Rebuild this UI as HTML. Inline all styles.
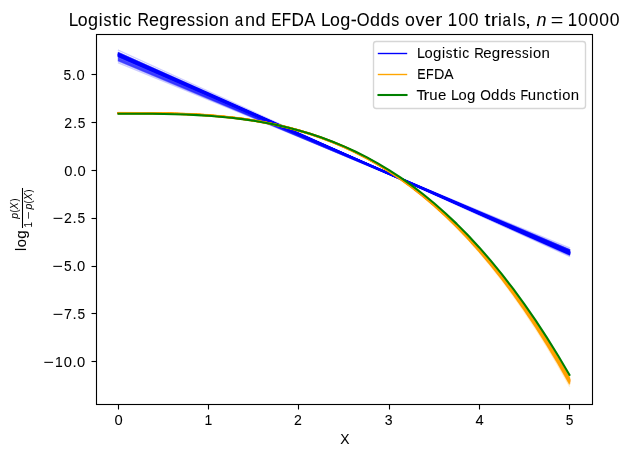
<!DOCTYPE html>
<html><head><meta charset="utf-8"><title>Logistic Regression and EFDA Log-Odds</title>
<style>html,body{margin:0;padding:0;background:#fff;overflow:hidden}svg{display:block;will-change:transform}text{font-family:"Liberation Sans",sans-serif}</style>
</head><body>
<svg width="630" height="457" viewBox="0 0 630 457">
<rect width="630" height="457" fill="#fff"/>
<g fill="none" stroke-linecap="square" stroke-linejoin="round">
<g stroke="#0000ff" stroke-opacity="0.2" stroke-width="1.3889"><path d="M118.54 56.9L569.44 252.14"/><path d="M118.54 58.58L569.44 251.24"/><path d="M118.54 60.59L569.44 250.53"/><path d="M118.54 58.97L569.44 249.33"/><path d="M118.54 59.63L569.44 250.64"/><path d="M118.54 60.76L569.44 249.55"/><path d="M118.54 56.58L569.44 251.71"/><path d="M118.54 58.87L569.44 249.89"/><path d="M118.54 59.98L569.44 249.89"/><path d="M118.54 60.05L569.44 250.22"/><path d="M118.54 61.16L569.44 249.83"/><path d="M118.54 58.42L569.44 250.69"/><path d="M118.54 60.06L569.44 250.59"/><path d="M118.54 60.94L569.44 249.99"/><path d="M118.54 59.23L569.44 251.1"/><path d="M118.54 62.83L569.44 247.87"/><path d="M118.54 55.09L569.44 251.82"/><path d="M118.54 54.18L569.44 252.42"/><path d="M118.54 50.28L569.44 256.32"/><path d="M118.54 55.22L569.44 253.29"/><path d="M118.54 55.98L569.44 252.32"/><path d="M118.54 54.03L569.44 254.52"/><path d="M118.54 56.13L569.44 251.47"/><path d="M118.54 54.6L569.44 254.06"/><path d="M118.54 53.89L569.44 253.62"/><path d="M118.54 52.83L569.44 254.01"/><path d="M118.54 53.3L569.44 254.13"/><path d="M118.54 54.41L569.44 252.69"/><path d="M118.54 52.59L569.44 255.08"/><path d="M118.54 55.37L569.44 251.72"/><path d="M118.54 56.09L569.44 251.48"/><path d="M118.54 53.84L569.44 253.65"/><path d="M118.54 53.89L569.44 254.11"/><path d="M118.54 52.53L569.44 254.38"/><path d="M118.54 54.48L569.44 253.5"/><path d="M118.54 55.47L569.44 252.26"/><path d="M118.54 52.77L569.44 255.3"/><path d="M118.54 56.37L569.44 251.57"/><path d="M118.54 54.88L569.44 252.56"/><path d="M118.54 55.22L569.44 252.72"/><path d="M118.54 55.9L569.44 252.09"/><path d="M118.54 55.12L569.44 253.01"/><path d="M118.54 55.51L569.44 252.38"/><path d="M118.54 58.08L569.44 249.95"/><path d="M118.54 56.39L569.44 250.89"/><path d="M118.54 54.78L569.44 253.85"/><path d="M118.54 55.61L569.44 252.5"/><path d="M118.54 56.84L569.44 252.14"/><path d="M118.54 52.8L569.44 254.26"/><path d="M118.54 53.93L569.44 254.15"/><path d="M118.54 55.6L569.44 252.23"/><path d="M118.54 54.03L569.44 252.75"/><path d="M118.54 54.79L569.44 252.63"/><path d="M118.54 55.34L569.44 251.72"/><path d="M118.54 53.03L569.44 253.93"/><path d="M118.54 53.74L569.44 253.98"/><path d="M118.54 55.29L569.44 251.87"/><path d="M118.54 54.24L569.44 253.59"/><path d="M118.54 53.73L569.44 253.7"/><path d="M118.54 55.61L569.44 252.64"/><path d="M118.54 53.87L569.44 252.71"/><path d="M118.54 53.35L569.44 254.48"/><path d="M118.54 55.76L569.44 252.68"/><path d="M118.54 54.58L569.44 252.78"/><path d="M118.54 54.84L569.44 252.78"/><path d="M118.54 52.72L569.44 254.74"/><path d="M118.54 55.02L569.44 252.96"/><path d="M118.54 54.32L569.44 253.72"/><path d="M118.54 54.51L569.44 253.56"/><path d="M118.54 54.03L569.44 253.27"/><path d="M118.54 55.87L569.44 252.07"/><path d="M118.54 56.85L569.44 250.86"/><path d="M118.54 56.37L569.44 252.47"/><path d="M118.54 55.05L569.44 252.94"/><path d="M118.54 56L569.44 251.53"/><path d="M118.54 54.73L569.44 252.57"/><path d="M118.54 54.02L569.44 252.95"/><path d="M118.54 55.85L569.44 252.08"/><path d="M118.54 57.74L569.44 250.59"/><path d="M118.54 57.4L569.44 250.21"/><path d="M118.54 54.27L569.44 253.44"/><path d="M118.54 55.69L569.44 252.09"/><path d="M118.54 55.4L569.44 252.68"/><path d="M118.54 56.9L569.44 251.1"/><path d="M118.54 56.3L569.44 251.92"/><path d="M118.54 53.65L569.44 254.26"/><path d="M118.54 53.36L569.44 254.54"/><path d="M118.54 56.09L569.44 251.75"/><path d="M118.54 55.55L569.44 252.22"/><path d="M118.54 54.75L569.44 252.3"/><path d="M118.54 54.36L569.44 253.26"/><path d="M118.54 56.14L569.44 252.47"/><path d="M118.54 56.03L569.44 252.63"/><path d="M118.54 56.25L569.44 251.67"/><path d="M118.54 53.7L569.44 253.96"/><path d="M118.54 53.94L569.44 253.56"/><path d="M118.54 54.86L569.44 252.98"/><path d="M118.54 54.55L569.44 253.24"/><path d="M118.54 54.71L569.44 253.4"/><path d="M118.54 55.05L569.44 253.66"/></g>
<g stroke="#ffa500" stroke-opacity="0.2" stroke-width="1.3889"><polyline points="118.54 113.56 129.81 113.57 141.08 113.6 152.35 113.69 163.63 113.85 174.9 114.12 186.17 114.51 197.44 115.06 208.72 115.78 219.99 116.7 231.26 117.84 242.54 119.24 253.81 120.9 265.08 122.87 276.35 125.16 287.63 127.8 298.9 130.81 310.17 134.22 321.44 138.05 332.72 142.33 343.99 147.07 355.26 152.32 366.54 158.09 377.81 164.4 389.08 171.28 400.35 178.76 411.63 186.85 422.9 195.6 434.17 205.01 445.44 215.12 456.72 225.94 467.99 237.52 479.26 249.86 490.54 262.99 501.81 276.95 513.08 291.74 524.35 307.41 535.63 323.97 546.9 341.45 558.17 359.88 569.44 379.27"/><polyline points="118.54 112.85 129.81 112.86 141.08 112.89 152.35 112.98 163.63 113.15 174.9 113.41 186.17 113.81 197.44 114.35 208.72 115.08 219.99 116 231.26 117.15 242.54 118.56 253.81 120.24 265.08 122.22 276.35 124.53 287.63 127.19 298.9 130.23 310.17 133.67 321.44 137.55 332.72 141.87 343.99 146.68 355.26 151.99 366.54 157.83 377.81 164.23 389.08 171.22 400.35 178.81 411.63 187.04 422.9 195.93 434.17 205.5 445.44 215.79 456.72 226.82 467.99 238.61 479.26 251.19 490.54 264.6 501.81 278.85 513.08 293.96 524.35 309.98 535.63 326.92 546.9 344.81 558.17 363.68 569.44 383.56"/><polyline points="118.54 113.18 129.81 113.18 141.08 113.22 152.35 113.3 163.63 113.47 174.9 113.74 186.17 114.13 197.44 114.67 208.72 115.4 219.99 116.32 231.26 117.46 242.54 118.86 253.81 120.54 265.08 122.51 276.35 124.81 287.63 127.45 298.9 130.48 310.17 133.9 321.44 137.75 332.72 142.04 343.99 146.82 355.26 152.09 366.54 157.89 377.81 164.23 389.08 171.16 400.35 178.68 411.63 186.83 422.9 195.63 434.17 205.11 445.44 215.29 456.72 226.2 467.99 237.86 479.26 250.3 490.54 263.55 501.81 277.62 513.08 292.55 524.35 308.36 535.63 325.07 546.9 342.72 558.17 361.33 569.44 380.91"/><polyline points="118.54 113.52 129.81 113.52 141.08 113.56 152.35 113.65 163.63 113.81 174.9 114.08 186.17 114.47 197.44 115.02 208.72 115.74 219.99 116.66 231.26 117.8 242.54 119.2 253.81 120.87 265.08 122.84 276.35 125.13 287.63 127.78 298.9 130.79 310.17 134.21 321.44 138.04 332.72 142.33 343.99 147.09 355.26 152.35 366.54 158.13 377.81 164.46 389.08 171.36 400.35 178.86 411.63 186.98 422.9 195.75 434.17 205.2 445.44 215.34 456.72 226.2 467.99 237.82 479.26 250.21 490.54 263.39 501.81 277.4 513.08 292.26 524.35 308 535.63 324.63 546.9 342.19 558.17 360.7 569.44 380.19"/><polyline points="118.54 113.35 129.81 113.36 141.08 113.39 152.35 113.48 163.63 113.64 174.9 113.91 186.17 114.3 197.44 114.85 208.72 115.57 219.99 116.5 231.26 117.65 242.54 119.05 253.81 120.73 265.08 122.71 276.35 125.02 287.63 127.68 298.9 130.72 310.17 134.16 321.44 138.03 332.72 142.35 343.99 147.16 355.26 152.46 366.54 158.3 377.81 164.7 389.08 171.68 400.35 179.26 411.63 187.48 422.9 196.36 434.17 205.93 445.44 216.2 456.72 227.22 467.99 239 479.26 251.57 490.54 264.96 501.81 279.19 513.08 294.29 524.35 310.28 535.63 327.2 546.9 345.07 558.17 363.91 569.44 383.76"/><polyline points="118.54 113.29 129.81 113.3 141.08 113.33 152.35 113.42 163.63 113.59 174.9 113.85 186.17 114.25 197.44 114.79 208.72 115.51 219.99 116.44 231.26 117.58 242.54 118.98 253.81 120.65 265.08 122.63 276.35 124.93 287.63 127.57 298.9 130.6 310.17 134.02 321.44 137.87 332.72 142.16 343.99 146.94 355.26 152.21 366.54 158.01 377.81 164.35 389.08 171.28 400.35 178.8 411.63 186.96 422.9 195.76 434.17 205.24 445.44 215.42 456.72 226.33 467.99 237.99 479.26 250.43 490.54 263.68 501.81 277.76 513.08 292.69 524.35 308.5 535.63 325.22 546.9 342.87 558.17 361.48 569.44 381.07"/><polyline points="118.54 113.19 129.81 113.19 141.08 113.23 152.35 113.31 163.63 113.48 174.9 113.75 186.17 114.14 197.44 114.69 208.72 115.41 219.99 116.33 231.26 117.48 242.54 118.88 253.81 120.56 265.08 122.54 276.35 124.84 287.63 127.5 298.9 130.53 310.17 133.97 321.44 137.83 332.72 142.15 343.99 146.94 355.26 152.24 366.54 158.06 377.81 164.44 389.08 171.4 400.35 178.97 411.63 187.16 422.9 196.02 434.17 205.55 445.44 215.8 456.72 226.78 467.99 238.52 479.26 251.05 490.54 264.39 501.81 278.57 513.08 293.61 524.35 309.55 535.63 326.4 546.9 344.19 558.17 362.96 569.44 382.72"/><polyline points="118.54 113.04 129.81 113.05 141.08 113.08 152.35 113.17 163.63 113.33 174.9 113.6 186.17 113.99 197.44 114.54 208.72 115.26 219.99 116.18 231.26 117.32 242.54 118.72 253.81 120.39 265.08 122.36 276.35 124.65 287.63 127.29 298.9 130.31 310.17 133.72 321.44 137.55 332.72 141.84 343.99 146.59 355.26 151.85 366.54 157.62 377.81 163.94 389.08 170.84 400.35 178.33 411.63 186.45 422.9 195.21 434.17 204.64 445.44 214.77 456.72 225.62 467.99 237.22 479.26 249.59 490.54 262.76 501.81 276.75 513.08 291.59 524.35 307.3 535.63 323.91 546.9 341.44 558.17 359.92 569.44 379.38"/><polyline points="118.54 113.55 129.81 113.55 141.08 113.59 152.35 113.67 163.63 113.84 174.9 114.11 186.17 114.5 197.44 115.05 208.72 115.77 219.99 116.69 231.26 117.84 242.54 119.24 253.81 120.91 265.08 122.89 276.35 125.19 287.63 127.84 298.9 130.87 310.17 134.3 321.44 138.15 332.72 142.46 343.99 147.24 355.26 152.52 366.54 158.33 377.81 164.7 389.08 171.64 400.35 179.18 411.63 187.36 422.9 196.18 434.17 205.69 445.44 215.9 456.72 226.84 467.99 238.54 479.26 251.03 490.54 264.32 501.81 278.44 513.08 293.43 524.35 309.3 535.63 326.08 546.9 343.8 558.17 362.48 569.44 382.15"/><polyline points="118.54 113.24 129.81 113.25 141.08 113.28 152.35 113.37 163.63 113.53 174.9 113.8 186.17 114.19 197.44 114.74 208.72 115.46 219.99 116.38 231.26 117.53 242.54 118.93 253.81 120.61 265.08 122.58 276.35 124.88 287.63 127.53 298.9 130.56 310.17 133.99 321.44 137.84 332.72 142.14 343.99 146.93 355.26 152.21 366.54 158.02 377.81 164.38 389.08 171.31 400.35 178.85 411.63 187.02 422.9 195.85 434.17 205.35 445.44 215.55 456.72 226.49 467.99 238.18 479.26 250.66 490.54 263.94 501.81 278.06 513.08 293.03 524.35 308.89 535.63 325.66 546.9 343.37 558.17 362.04 569.44 381.69"/><polyline points="118.54 112.72 129.81 112.72 141.08 112.76 152.35 112.84 163.63 113.01 174.9 113.28 186.17 113.67 197.44 114.21 208.72 114.94 219.99 115.86 231.26 117 242.54 118.4 253.81 120.07 265.08 122.04 276.35 124.34 287.63 126.98 298.9 130 310.17 133.42 321.44 137.27 332.72 141.56 343.99 146.32 355.26 151.59 366.54 157.38 377.81 163.71 389.08 170.63 400.35 178.14 411.63 186.27 422.9 195.06 434.17 204.52 445.44 214.68 456.72 225.57 467.99 237.21 479.26 249.62 490.54 262.83 501.81 276.88 513.08 291.77 524.35 307.54 535.63 324.22 546.9 341.82 558.17 360.37 569.44 379.91"/><polyline points="118.54 113.51 129.81 113.51 141.08 113.55 152.35 113.64 163.63 113.8 174.9 114.07 186.17 114.46 197.44 115.01 208.72 115.73 219.99 116.65 231.26 117.8 242.54 119.2 253.81 120.88 265.08 122.85 276.35 125.15 287.63 127.81 298.9 130.84 310.17 134.27 321.44 138.12 332.72 142.43 343.99 147.21 355.26 152.5 366.54 158.32 377.81 164.68 389.08 171.63 400.35 179.18 411.63 187.35 422.9 196.19 434.17 205.7 445.44 215.92 456.72 226.87 467.99 238.58 479.26 251.07 490.54 264.38 501.81 278.51 513.08 293.51 524.35 309.39 535.63 326.19 546.9 343.93 558.17 362.63 569.44 382.32"/><polyline points="118.54 113.23 129.81 113.24 141.08 113.27 152.35 113.36 163.63 113.53 174.9 113.79 186.17 114.19 197.44 114.73 208.72 115.45 219.99 116.37 231.26 117.51 242.54 118.9 253.81 120.56 265.08 122.52 276.35 124.81 287.63 127.43 298.9 130.43 310.17 133.83 321.44 137.64 332.72 141.9 343.99 146.63 355.26 151.85 366.54 157.58 377.81 163.86 389.08 170.7 400.35 178.14 411.63 186.19 422.9 194.87 434.17 204.22 445.44 214.26 456.72 225.01 467.99 236.5 479.26 248.75 490.54 261.78 501.81 275.62 513.08 290.3 524.35 305.83 535.63 322.25 546.9 339.57 558.17 357.82 569.44 377.03"/><polyline points="118.54 113.27 129.81 113.27 141.08 113.31 152.35 113.4 163.63 113.56 174.9 113.83 186.17 114.22 197.44 114.77 208.72 115.49 219.99 116.41 231.26 117.56 242.54 118.95 253.81 120.62 265.08 122.6 276.35 124.89 287.63 127.54 298.9 130.56 310.17 133.98 321.44 137.82 332.72 142.12 343.99 146.88 355.26 152.15 366.54 157.94 377.81 164.28 389.08 171.2 400.35 178.71 411.63 186.85 422.9 195.64 434.17 205.1 445.44 215.27 456.72 226.16 467.99 237.81 479.26 250.23 490.54 263.45 501.81 277.5 513.08 292.4 524.35 308.18 535.63 324.86 546.9 342.48 558.17 361.05 569.44 380.59"/><polyline points="118.54 113.07 129.81 113.08 141.08 113.11 152.35 113.2 163.63 113.36 174.9 113.63 186.17 114.02 197.44 114.57 208.72 115.29 219.99 116.21 231.26 117.36 242.54 118.76 253.81 120.43 265.08 122.4 276.35 124.7 287.63 127.35 298.9 130.37 310.17 133.79 321.44 137.63 332.72 141.93 343.99 146.7 355.26 151.97 366.54 157.77 377.81 164.11 389.08 171.03 400.35 178.55 411.63 186.7 422.9 195.5 434.17 204.97 445.44 215.15 456.72 226.05 467.99 237.71 479.26 250.14 490.54 263.37 501.81 277.44 513.08 292.36 524.35 308.16 535.63 324.86 546.9 342.5 558.17 361.09 569.44 380.67"/><polyline points="118.54 112.56 129.81 112.57 141.08 112.6 152.35 112.69 163.63 112.86 174.9 113.12 186.17 113.52 197.44 114.06 208.72 114.78 219.99 115.71 231.26 116.85 242.54 118.25 253.81 119.93 265.08 121.9 276.35 124.2 287.63 126.85 298.9 129.88 310.17 133.31 321.44 137.16 332.72 141.46 343.99 146.24 355.26 151.52 366.54 157.33 377.81 163.69 389.08 170.63 400.35 178.17 411.63 186.34 422.9 195.16 434.17 204.66 445.44 214.86 456.72 225.8 467.99 237.49 479.26 249.96 490.54 263.24 501.81 277.35 513.08 292.32 524.35 308.18 535.63 324.94 546.9 342.64 558.17 361.31 569.44 380.96"/><polyline points="118.54 113 129.81 113.01 141.08 113.04 152.35 113.13 163.63 113.3 174.9 113.56 186.17 113.96 197.44 114.5 208.72 115.22 219.99 116.14 231.26 117.29 242.54 118.69 253.81 120.36 265.08 122.33 276.35 124.63 287.63 127.27 298.9 130.29 310.17 133.71 321.44 137.56 332.72 141.85 343.99 146.61 355.26 151.88 366.54 157.67 377.81 164.01 389.08 170.92 400.35 178.44 411.63 186.58 422.9 195.36 434.17 204.83 445.44 214.99 456.72 225.88 467.99 237.52 479.26 249.94 490.54 263.16 501.81 277.2 513.08 292.1 524.35 307.88 535.63 324.56 546.9 342.17 558.17 360.73 569.44 380.28"/><polyline points="118.54 113.04 129.81 113.05 141.08 113.08 152.35 113.17 163.63 113.33 174.9 113.6 186.17 113.99 197.44 114.54 208.72 115.26 219.99 116.18 231.26 117.33 242.54 118.74 253.81 120.41 265.08 122.39 276.35 124.7 287.63 127.35 298.9 130.38 310.17 133.82 321.44 137.68 332.72 141.99 343.99 146.79 355.26 152.08 366.54 157.9 377.81 164.28 389.08 171.24 400.35 178.8 411.63 187 422.9 195.85 434.17 205.38 445.44 215.63 456.72 226.6 467.99 238.34 479.26 250.86 490.54 264.2 501.81 278.37 513.08 293.41 524.35 309.34 535.63 326.19 546.9 343.97 558.17 362.73 569.44 382.49"/><polyline points="118.54 112.71 129.81 112.72 141.08 112.75 152.35 112.84 163.63 113 174.9 113.27 186.17 113.66 197.44 114.21 208.72 114.93 219.99 115.85 231.26 117 242.54 118.4 253.81 120.07 265.08 122.04 276.35 124.34 287.63 126.99 298.9 130.01 310.17 133.43 321.44 137.28 332.72 141.58 343.99 146.35 355.26 151.62 366.54 157.42 377.81 163.77 389.08 170.69 400.35 178.21 411.63 186.36 422.9 195.17 434.17 204.64 445.44 214.82 456.72 225.73 467.99 237.39 479.26 249.83 490.54 263.08 501.81 277.15 513.08 292.08 524.35 307.89 535.63 324.6 546.9 342.25 558.17 360.85 569.44 380.44"/><polyline points="118.54 113.21 129.81 113.21 141.08 113.25 152.35 113.34 163.63 113.5 174.9 113.77 186.17 114.16 197.44 114.71 208.72 115.43 219.99 116.35 231.26 117.5 242.54 118.9 253.81 120.58 265.08 122.55 276.35 124.86 287.63 127.51 298.9 130.54 310.17 133.97 321.44 137.83 332.72 142.14 343.99 146.93 355.26 152.22 366.54 158.04 377.81 164.41 389.08 171.36 400.35 178.91 411.63 187.1 422.9 195.94 434.17 205.46 445.44 215.69 456.72 226.65 467.99 238.37 479.26 250.87 490.54 264.19 501.81 278.34 513.08 293.35 524.35 309.25 535.63 326.07 546.9 343.82 558.17 362.55 569.44 382.26"/><polyline points="118.54 113.43 129.81 113.43 141.08 113.47 152.35 113.55 163.63 113.72 174.9 113.99 186.17 114.38 197.44 114.92 208.72 115.64 219.99 116.57 231.26 117.71 242.54 119.11 253.81 120.78 265.08 122.75 276.35 125.04 287.63 127.68 298.9 130.7 310.17 134.11 321.44 137.95 332.72 142.24 343.99 147 355.26 152.25 366.54 158.03 377.81 164.36 389.08 171.26 400.35 178.76 411.63 186.88 422.9 195.65 434.17 205.09 445.44 215.23 456.72 226.1 467.99 237.71 479.26 250.09 490.54 263.28 501.81 277.28 513.08 292.14 524.35 307.87 535.63 324.5 546.9 342.06 558.17 360.56 569.44 380.04"/><polyline points="118.54 112.93 129.81 112.94 141.08 112.97 152.35 113.06 163.63 113.23 174.9 113.49 186.17 113.89 197.44 114.43 208.72 115.15 219.99 116.07 231.26 117.22 242.54 118.61 253.81 120.28 265.08 122.25 276.35 124.54 287.63 127.18 298.9 130.2 310.17 133.61 321.44 137.45 332.72 141.73 343.99 146.48 355.26 151.74 366.54 157.51 377.81 163.84 389.08 170.73 400.35 178.22 411.63 186.33 422.9 195.09 434.17 204.53 445.44 214.66 456.72 225.51 467.99 237.1 479.26 249.47 490.54 262.64 501.81 276.63 513.08 291.47 524.35 307.18 535.63 323.78 546.9 341.31 558.17 359.79 569.44 379.24"/><polyline points="118.54 112.87 129.81 112.88 141.08 112.91 152.35 113 163.63 113.16 174.9 113.43 186.17 113.82 197.44 114.37 208.72 115.09 219.99 116.01 231.26 117.15 242.54 118.55 253.81 120.22 265.08 122.19 276.35 124.48 287.63 127.12 298.9 130.14 310.17 133.55 321.44 137.39 332.72 141.67 343.99 146.42 355.26 151.68 366.54 157.45 377.81 163.78 389.08 170.67 400.35 178.17 411.63 186.28 422.9 195.04 434.17 204.48 445.44 214.61 456.72 225.46 467.99 237.06 479.26 249.44 490.54 262.61 501.81 276.6 513.08 291.44 524.35 307.15 535.63 323.77 546.9 341.3 558.17 359.78 569.44 379.24"/><polyline points="118.54 113.21 129.81 113.22 141.08 113.25 152.35 113.34 163.63 113.5 174.9 113.77 186.17 114.16 197.44 114.71 208.72 115.43 219.99 116.35 231.26 117.49 242.54 118.89 253.81 120.56 265.08 122.52 276.35 124.82 287.63 127.46 298.9 130.47 310.17 133.88 321.44 137.72 332.72 142 343.99 146.75 355.26 152 366.54 157.78 377.81 164.1 389.08 170.99 400.35 178.48 411.63 186.58 422.9 195.34 434.17 204.77 445.44 214.89 456.72 225.74 467.99 237.33 479.26 249.69 490.54 262.85 501.81 276.84 513.08 291.66 524.35 307.36 535.63 323.96 546.9 341.48 558.17 359.94 569.44 379.38"/><polyline points="118.54 113.05 129.81 113.05 141.08 113.09 152.35 113.17 163.63 113.34 174.9 113.61 186.17 114 197.44 114.55 208.72 115.27 219.99 116.19 231.26 117.34 242.54 118.73 253.81 120.41 265.08 122.38 276.35 124.68 287.63 127.32 298.9 130.35 310.17 133.77 321.44 137.62 332.72 141.91 343.99 146.68 355.26 151.96 366.54 157.75 377.81 164.1 389.08 171.02 400.35 178.55 411.63 186.69 422.9 195.5 434.17 204.97 445.44 215.15 456.72 226.06 467.99 237.72 479.26 250.16 490.54 263.4 501.81 277.47 513.08 292.39 524.35 308.2 535.63 324.91 546.9 342.56 558.17 361.16 569.44 380.74"/><polyline points="118.54 113.01 129.81 113.02 141.08 113.05 152.35 113.14 163.63 113.3 174.9 113.57 186.17 113.96 197.44 114.51 208.72 115.22 219.99 116.14 231.26 117.29 242.54 118.68 253.81 120.35 265.08 122.32 276.35 124.61 287.63 127.24 298.9 130.25 310.17 133.66 321.44 137.49 332.72 141.76 343.99 146.51 355.26 151.75 366.54 157.51 377.81 163.82 389.08 170.69 400.35 178.16 411.63 186.25 422.9 194.99 434.17 204.39 445.44 214.49 456.72 225.31 467.99 236.87 479.26 249.19 490.54 262.32 501.81 276.25 513.08 291.03 524.35 306.68 535.63 323.22 546.9 340.68 558.17 359.08 569.44 378.45"/><polyline points="118.54 113.15 129.81 113.16 141.08 113.19 152.35 113.28 163.63 113.44 174.9 113.71 186.17 114.1 197.44 114.65 208.72 115.37 219.99 116.29 231.26 117.44 242.54 118.84 253.81 120.51 265.08 122.49 276.35 124.79 287.63 127.44 298.9 130.46 310.17 133.89 321.44 137.74 332.72 142.04 343.99 146.81 355.26 152.09 366.54 157.89 377.81 164.25 389.08 171.18 400.35 178.71 411.63 186.87 422.9 195.68 434.17 205.18 445.44 215.37 456.72 226.29 467.99 237.97 479.26 250.43 490.54 263.69 501.81 277.79 513.08 292.74 524.35 308.58 535.63 325.32 546.9 343 558.17 361.64 569.44 381.26"/><polyline points="118.54 113.01 129.81 113.02 141.08 113.05 152.35 113.14 163.63 113.3 174.9 113.57 186.17 113.96 197.44 114.51 208.72 115.23 219.99 116.14 231.26 117.29 242.54 118.68 253.81 120.34 265.08 122.31 276.35 124.59 287.63 127.22 298.9 130.23 310.17 133.63 321.44 137.45 332.72 141.71 343.99 146.44 355.26 151.67 366.54 157.42 377.81 163.71 389.08 170.56 400.35 178.01 411.63 186.08 422.9 194.78 434.17 204.16 445.44 214.22 456.72 224.99 467.99 236.51 479.26 248.79 490.54 261.85 501.81 275.73 513.08 290.45 524.35 306.03 535.63 322.49 546.9 339.87 558.17 358.18 569.44 377.45"/><polyline points="118.54 113.28 129.81 113.28 141.08 113.32 152.35 113.41 163.63 113.57 174.9 113.84 186.17 114.23 197.44 114.78 208.72 115.5 219.99 116.42 231.26 117.57 242.54 118.96 253.81 120.64 265.08 122.61 276.35 124.91 287.63 127.56 298.9 130.58 310.17 134 321.44 137.85 332.72 142.14 343.99 146.91 355.26 152.19 366.54 157.98 377.81 164.33 389.08 171.25 400.35 178.77 411.63 186.92 422.9 195.72 434.17 205.2 445.44 215.38 456.72 226.29 467.99 237.94 479.26 250.38 490.54 263.62 501.81 277.69 513.08 292.62 524.35 308.42 535.63 325.13 546.9 342.78 558.17 361.38 569.44 380.96"/><polyline points="118.54 113.26 129.81 113.26 141.08 113.3 152.35 113.38 163.63 113.55 174.9 113.82 186.17 114.21 197.44 114.75 208.72 115.47 219.99 116.39 231.26 117.54 242.54 118.93 253.81 120.6 265.08 122.56 276.35 124.85 287.63 127.49 298.9 130.5 310.17 133.91 321.44 137.74 332.72 142.01 343.99 146.76 355.26 152 366.54 157.77 377.81 164.07 389.08 170.95 400.35 178.43 411.63 186.52 422.9 195.26 434.17 204.67 445.44 214.77 456.72 225.59 467.99 237.15 479.26 249.48 490.54 262.61 501.81 276.55 513.08 291.34 524.35 307 535.63 323.55 546.9 341.01 558.17 359.42 569.44 378.8"/><polyline points="118.54 113.74 129.81 113.75 141.08 113.79 152.35 113.87 163.63 114.04 174.9 114.3 186.17 114.7 197.44 115.24 208.72 115.96 219.99 116.88 231.26 118.03 242.54 119.43 253.81 121.1 265.08 123.07 276.35 125.36 287.63 128.01 298.9 131.03 310.17 134.44 321.44 138.28 332.72 142.57 343.99 147.33 355.26 152.6 366.54 158.38 377.81 164.71 389.08 171.62 400.35 179.13 411.63 187.26 422.9 196.04 434.17 205.49 445.44 215.64 456.72 226.52 467.99 238.14 479.26 250.54 490.54 263.74 501.81 277.77 513.08 292.65 524.35 308.4 535.63 325.06 546.9 342.64 558.17 361.17 569.44 380.68"/><polyline points="118.54 112.88 129.81 112.88 141.08 112.92 152.35 113 163.63 113.17 174.9 113.44 186.17 113.83 197.44 114.37 208.72 115.1 219.99 116.02 231.26 117.17 242.54 118.57 253.81 120.24 265.08 122.22 276.35 124.52 287.63 127.18 298.9 130.2 310.17 133.64 321.44 137.49 332.72 141.8 343.99 146.58 355.26 151.87 366.54 157.69 377.81 164.05 389.08 171 400.35 178.55 411.63 186.73 422.9 195.56 434.17 205.08 445.44 215.3 456.72 226.25 467.99 237.96 479.26 250.46 490.54 263.76 501.81 277.9 513.08 292.9 524.35 308.79 535.63 325.59 546.9 343.33 558.17 362.03 569.44 381.73"/><polyline points="118.54 112.79 129.81 112.8 141.08 112.83 152.35 112.92 163.63 113.08 174.9 113.35 186.17 113.74 197.44 114.29 208.72 115.01 219.99 115.93 231.26 117.07 242.54 118.47 253.81 120.14 265.08 122.11 276.35 124.4 287.63 127.05 298.9 130.06 310.17 133.48 321.44 137.32 332.72 141.6 343.99 146.36 355.26 151.62 366.54 157.4 377.81 163.73 389.08 170.63 400.35 178.13 411.63 186.25 422.9 195.02 434.17 204.47 445.44 214.61 456.72 225.47 467.99 237.09 479.26 249.48 490.54 262.66 501.81 276.67 513.08 291.53 524.35 307.27 535.63 323.9 546.9 341.46 558.17 359.97 569.44 379.45"/><polyline points="118.54 113.38 129.81 113.38 141.08 113.42 152.35 113.5 163.63 113.67 174.9 113.93 186.17 114.33 197.44 114.87 208.72 115.59 219.99 116.51 231.26 117.66 242.54 119.06 253.81 120.73 265.08 122.7 276.35 125 287.63 127.64 298.9 130.66 310.17 134.08 321.44 137.92 332.72 142.22 343.99 146.98 355.26 152.25 366.54 158.04 377.81 164.37 389.08 171.29 400.35 178.8 411.63 186.93 422.9 195.72 434.17 205.18 445.44 215.34 456.72 226.23 467.99 237.87 479.26 250.28 490.54 263.5 501.81 277.54 513.08 292.43 524.35 308.2 535.63 324.88 546.9 342.48 558.17 361.04 569.44 380.58"/><polyline points="118.54 113.66 129.81 113.66 141.08 113.7 152.35 113.79 163.63 113.95 174.9 114.22 186.17 114.61 197.44 115.16 208.72 115.88 219.99 116.8 231.26 117.95 242.54 119.35 253.81 121.02 265.08 123 276.35 125.3 287.63 127.95 298.9 130.98 310.17 134.4 321.44 138.26 332.72 142.56 343.99 147.34 355.26 152.62 366.54 158.43 377.81 164.79 389.08 171.73 400.35 179.27 411.63 187.44 422.9 196.26 434.17 205.76 445.44 215.97 456.72 226.91 467.99 238.6 479.26 251.08 490.54 264.36 501.81 278.47 513.08 293.45 524.35 309.31 535.63 326.08 546.9 343.78 558.17 362.45 569.44 382.11"/><polyline points="118.54 112.69 129.81 112.7 141.08 112.73 152.35 112.82 163.63 112.99 174.9 113.25 186.17 113.65 197.44 114.19 208.72 114.91 219.99 115.84 231.26 116.99 242.54 118.39 253.81 120.06 265.08 122.04 276.35 124.34 287.63 127 298.9 130.03 310.17 133.46 321.44 137.31 332.72 141.62 343.99 146.41 355.26 151.7 366.54 157.52 377.81 163.89 389.08 170.84 400.35 178.39 411.63 186.57 422.9 195.41 434.17 204.93 445.44 215.15 456.72 226.11 467.99 237.83 479.26 250.33 490.54 263.64 501.81 277.79 513.08 292.8 524.35 308.69 535.63 325.5 546.9 343.25 558.17 361.97 569.44 381.68"/><polyline points="118.54 112.69 129.81 112.69 141.08 112.73 152.35 112.82 163.63 112.98 174.9 113.25 186.17 113.64 197.44 114.19 208.72 114.91 219.99 115.83 231.26 116.98 242.54 118.37 253.81 120.05 265.08 122.02 276.35 124.32 287.63 126.96 298.9 129.99 310.17 133.41 321.44 137.26 332.72 141.55 343.99 146.32 355.26 151.59 366.54 157.39 377.81 163.74 389.08 170.66 400.35 178.18 411.63 186.33 422.9 195.13 434.17 204.61 445.44 214.78 456.72 225.69 467.99 237.35 479.26 249.78 490.54 263.02 501.81 277.09 513.08 292.02 524.35 307.82 535.63 324.53 546.9 342.17 558.17 360.77 569.44 380.35"/><polyline points="118.54 112.93 129.81 112.94 141.08 112.97 152.35 113.06 163.63 113.22 174.9 113.49 186.17 113.89 197.44 114.43 208.72 115.15 219.99 116.07 231.26 117.22 242.54 118.62 253.81 120.29 265.08 122.26 276.35 124.56 287.63 127.2 298.9 130.23 310.17 133.65 321.44 137.49 332.72 141.79 343.99 146.55 355.26 151.82 366.54 157.62 377.81 163.96 389.08 170.88 400.35 178.39 411.63 186.54 422.9 195.33 434.17 204.8 445.44 214.97 456.72 225.87 467.99 237.52 479.26 249.94 490.54 263.17 501.81 277.23 513.08 292.14 524.35 307.93 535.63 324.63 546.9 342.25 558.17 360.83 569.44 380.39"/><polyline points="118.54 113.86 129.81 113.87 141.08 113.9 152.35 113.99 163.63 114.15 174.9 114.42 186.17 114.81 197.44 115.36 208.72 116.08 219.99 117 231.26 118.15 242.54 119.55 253.81 121.23 265.08 123.2 276.35 125.5 287.63 128.15 298.9 131.18 310.17 134.61 321.44 138.46 332.72 142.77 343.99 147.55 355.26 152.83 366.54 158.64 377.81 165 389.08 171.94 400.35 179.48 411.63 187.65 422.9 196.47 434.17 205.97 445.44 216.18 456.72 227.12 467.99 238.81 479.26 251.28 490.54 264.57 501.81 278.68 513.08 293.66 524.35 309.52 535.63 326.29 546.9 344 558.17 362.67 569.44 382.32"/><polyline points="118.54 113.16 129.81 113.17 141.08 113.2 152.35 113.29 163.63 113.46 174.9 113.72 186.17 114.12 197.44 114.66 208.72 115.38 219.99 116.31 231.26 117.46 242.54 118.86 253.81 120.54 265.08 122.51 276.35 124.82 287.63 127.47 298.9 130.51 310.17 133.94 321.44 137.8 332.72 142.12 343.99 146.91 355.26 152.2 366.54 158.02 377.81 164.4 389.08 171.36 400.35 178.92 411.63 187.12 422.9 195.97 434.17 205.5 445.44 215.74 456.72 226.71 467.99 238.45 479.26 250.97 490.54 264.3 501.81 278.48 513.08 293.51 524.35 309.44 535.63 326.28 546.9 344.06 558.17 362.82 569.44 382.57"/><polyline points="118.54 113.6 129.81 113.61 141.08 113.64 152.35 113.73 163.63 113.9 174.9 114.16 186.17 114.56 197.44 115.1 208.72 115.82 219.99 116.74 231.26 117.89 242.54 119.29 253.81 120.96 265.08 122.93 276.35 125.22 287.63 127.87 298.9 130.88 310.17 134.3 321.44 138.14 332.72 142.43 343.99 147.19 355.26 152.46 366.54 158.24 377.81 164.57 389.08 171.48 400.35 178.99 411.63 187.12 422.9 195.89 434.17 205.35 445.44 215.5 456.72 226.38 467.99 238 479.26 250.4 490.54 263.6 501.81 277.63 513.08 292.51 524.35 308.26 535.63 324.91 546.9 342.5 558.17 361.03 569.44 380.54"/><polyline points="118.54 113.4 129.81 113.41 141.08 113.44 152.35 113.53 163.63 113.7 174.9 113.96 186.17 114.36 197.44 114.9 208.72 115.63 219.99 116.55 231.26 117.7 242.54 119.1 253.81 120.78 265.08 122.76 276.35 125.07 287.63 127.73 298.9 130.77 310.17 134.21 321.44 138.08 332.72 142.4 343.99 147.2 355.26 152.51 366.54 158.35 377.81 164.74 389.08 171.72 400.35 179.3 411.63 187.51 422.9 196.39 434.17 205.95 445.44 216.23 456.72 227.24 467.99 239.01 479.26 251.58 490.54 264.96 501.81 279.18 513.08 294.27 524.35 310.26 535.63 327.17 546.9 345.03 558.17 363.86 569.44 383.69"/><polyline points="118.54 113.41 129.81 113.42 141.08 113.45 152.35 113.54 163.63 113.71 174.9 113.97 186.17 114.37 197.44 114.91 208.72 115.63 219.99 116.55 231.26 117.7 242.54 119.09 253.81 120.76 265.08 122.73 276.35 125.02 287.63 127.66 298.9 130.67 310.17 134.08 321.44 137.92 332.72 142.2 343.99 146.95 355.26 152.2 366.54 157.98 377.81 164.3 389.08 171.19 400.35 178.67 411.63 186.78 422.9 195.54 434.17 204.96 445.44 215.09 456.72 225.93 467.99 237.52 479.26 249.88 490.54 263.04 501.81 277.02 513.08 291.84 524.35 307.54 535.63 324.14 546.9 341.65 558.17 360.11 569.44 379.55"/><polyline points="118.54 113.35 129.81 113.36 141.08 113.39 152.35 113.48 163.63 113.65 174.9 113.91 186.17 114.31 197.44 114.85 208.72 115.57 219.99 116.49 231.26 117.64 242.54 119.03 253.81 120.7 265.08 122.67 276.35 124.96 287.63 127.6 298.9 130.61 310.17 134.02 321.44 137.85 332.72 142.13 343.99 146.89 355.26 152.13 366.54 157.9 377.81 164.22 389.08 171.11 400.35 178.59 411.63 186.7 422.9 195.45 434.17 204.87 445.44 214.99 456.72 225.83 467.99 237.42 479.26 249.77 490.54 262.92 501.81 276.9 513.08 291.71 524.35 307.4 535.63 323.99 546.9 341.49 558.17 359.94 569.44 379.37"/><polyline points="118.54 112.78 129.81 112.79 141.08 112.82 152.35 112.91 163.63 113.07 174.9 113.34 186.17 113.73 197.44 114.28 208.72 115 219.99 115.92 231.26 117.07 242.54 118.46 253.81 120.14 265.08 122.11 276.35 124.41 287.63 127.05 298.9 130.07 310.17 133.49 321.44 137.34 332.72 141.63 343.99 146.4 355.26 151.67 366.54 157.46 377.81 163.81 389.08 170.73 400.35 178.24 411.63 186.39 422.9 195.18 434.17 204.65 445.44 214.82 456.72 225.72 467.99 237.37 479.26 249.8 490.54 263.03 501.81 277.09 513.08 292 524.35 307.79 535.63 324.49 546.9 342.11 558.17 360.7 569.44 380.26"/><polyline points="118.54 113.54 129.81 113.55 141.08 113.58 152.35 113.67 163.63 113.83 174.9 114.1 186.17 114.5 197.44 115.04 208.72 115.76 219.99 116.69 231.26 117.84 242.54 119.24 253.81 120.92 265.08 122.9 276.35 125.2 287.63 127.86 298.9 130.89 310.17 134.33 321.44 138.19 332.72 142.51 343.99 147.3 355.26 152.6 366.54 158.43 377.81 164.81 389.08 171.77 400.35 179.34 411.63 187.54 422.9 196.4 434.17 205.94 445.44 216.19 456.72 227.17 467.99 238.92 479.26 251.45 490.54 264.8 501.81 278.98 513.08 294.03 524.35 309.98 535.63 326.84 546.9 344.64 558.17 363.42 569.44 383.19"/><polyline points="118.54 113.23 129.81 113.23 141.08 113.27 152.35 113.35 163.63 113.52 174.9 113.78 186.17 114.18 197.44 114.72 208.72 115.44 219.99 116.36 231.26 117.51 242.54 118.9 253.81 120.57 265.08 122.54 276.35 124.83 287.63 127.47 298.9 130.48 310.17 133.89 321.44 137.73 332.72 142.01 343.99 146.76 355.26 152.01 366.54 157.78 377.81 164.1 389.08 170.99 400.35 178.48 411.63 186.59 422.9 195.34 434.17 204.77 445.44 214.89 456.72 225.73 467.99 237.32 479.26 249.68 490.54 262.84 501.81 276.81 513.08 291.64 524.35 307.33 535.63 323.92 546.9 341.43 558.17 359.89 569.44 379.32"/><polyline points="118.54 113.14 129.81 113.15 141.08 113.18 152.35 113.27 163.63 113.43 174.9 113.7 186.17 114.09 197.44 114.64 208.72 115.36 219.99 116.28 231.26 117.42 242.54 118.82 253.81 120.49 265.08 122.46 276.35 124.75 287.63 127.4 298.9 130.41 310.17 133.83 321.44 137.67 332.72 141.95 343.99 146.71 355.26 151.97 366.54 157.75 377.81 164.08 389.08 170.98 400.35 178.48 411.63 186.6 422.9 195.37 434.17 204.81 445.44 214.95 456.72 225.82 467.99 237.43 479.26 249.82 490.54 263 501.81 277.01 513.08 291.87 524.35 307.6 535.63 324.23 546.9 341.79 558.17 360.3 569.44 379.78"/><polyline points="118.54 113.34 129.81 113.35 141.08 113.39 152.35 113.47 163.63 113.64 174.9 113.9 186.17 114.3 197.44 114.84 208.72 115.56 219.99 116.48 231.26 117.63 242.54 119.03 253.81 120.7 265.08 122.67 276.35 124.96 287.63 127.61 298.9 130.63 310.17 134.05 321.44 137.89 332.72 142.18 343.99 146.94 355.26 152.2 366.54 157.99 377.81 164.33 389.08 171.24 400.35 178.74 411.63 186.88 422.9 195.66 434.17 205.11 445.44 215.27 456.72 226.15 467.99 237.78 479.26 250.19 490.54 263.39 501.81 277.43 513.08 292.31 524.35 308.07 535.63 324.73 546.9 342.32 558.17 360.87 569.44 380.39"/><polyline points="118.54 113.35 129.81 113.36 141.08 113.39 152.35 113.48 163.63 113.65 174.9 113.91 186.17 114.31 197.44 114.85 208.72 115.57 219.99 116.49 231.26 117.64 242.54 119.04 253.81 120.71 265.08 122.69 276.35 124.99 287.63 127.64 298.9 130.66 310.17 134.09 321.44 137.94 332.72 142.24 343.99 147.01 355.26 152.29 366.54 158.09 377.81 164.45 389.08 171.38 400.35 178.91 411.63 187.07 422.9 195.88 434.17 205.37 445.44 215.56 456.72 226.48 467.99 238.16 479.26 250.61 490.54 263.87 501.81 277.97 513.08 292.91 524.35 308.75 535.63 325.49 546.9 343.16 558.17 361.8 569.44 381.42"/><polyline points="118.54 113.59 129.81 113.59 141.08 113.63 152.35 113.72 163.63 113.88 174.9 114.15 186.17 114.54 197.44 115.09 208.72 115.81 219.99 116.74 231.26 117.89 242.54 119.29 253.81 120.97 265.08 122.95 276.35 125.25 287.63 127.91 298.9 130.95 310.17 134.39 321.44 138.26 332.72 142.58 343.99 147.38 355.26 152.68 366.54 158.51 377.81 164.9 389.08 171.87 400.35 179.45 411.63 187.66 422.9 196.53 434.17 206.09 445.44 216.35 456.72 227.36 467.99 239.12 479.26 251.68 490.54 265.05 501.81 279.26 513.08 294.34 524.35 310.31 535.63 327.21 546.9 345.05 558.17 363.86 569.44 383.68"/><polyline points="118.54 113.36 129.81 113.36 141.08 113.4 152.35 113.48 163.63 113.65 174.9 113.92 186.17 114.31 197.44 114.86 208.72 115.58 219.99 116.5 231.26 117.65 242.54 119.05 253.81 120.73 265.08 122.71 276.35 125.01 287.63 127.67 298.9 130.7 310.17 134.13 321.44 137.99 332.72 142.3 343.99 147.1 355.26 152.39 366.54 158.21 377.81 164.59 389.08 171.54 400.35 179.1 411.63 187.3 422.9 196.14 434.17 205.67 445.44 215.91 456.72 226.89 467.99 238.62 479.26 251.14 490.54 264.46 501.81 278.63 513.08 293.66 524.35 309.58 535.63 326.42 546.9 344.2 558.17 362.95 569.44 382.69"/><polyline points="118.54 113.49 129.81 113.5 141.08 113.53 152.35 113.62 163.63 113.79 174.9 114.05 186.17 114.45 197.44 114.99 208.72 115.71 219.99 116.63 231.26 117.78 242.54 119.17 253.81 120.84 265.08 122.81 276.35 125.1 287.63 127.75 298.9 130.76 310.17 134.17 321.44 138.01 332.72 142.29 343.99 147.05 355.26 152.31 366.54 158.08 377.81 164.41 389.08 171.31 400.35 178.8 411.63 186.92 422.9 195.68 434.17 205.12 445.44 215.25 456.72 226.11 467.99 237.71 479.26 250.09 490.54 263.26 501.81 277.26 513.08 292.1 524.35 307.82 535.63 324.44 546.9 341.98 558.17 360.47 569.44 379.93"/><polyline points="118.54 113.25 129.81 113.25 141.08 113.29 152.35 113.38 163.63 113.54 174.9 113.81 186.17 114.2 197.44 114.74 208.72 115.46 219.99 116.38 231.26 117.52 242.54 118.91 253.81 120.57 265.08 122.53 276.35 124.8 287.63 127.43 298.9 130.42 310.17 133.81 321.44 137.62 332.72 141.86 343.99 146.58 355.26 151.78 366.54 157.51 377.81 163.76 389.08 170.59 400.35 178 411.63 186.02 422.9 194.68 434.17 204 445.44 214 456.72 224.71 467.99 236.15 479.26 248.35 490.54 261.33 501.81 275.11 513.08 289.72 524.35 305.18 535.63 321.52 546.9 338.76 558.17 356.93 569.44 376.04"/><polyline points="118.54 112.95 129.81 112.96 141.08 112.99 152.35 113.08 163.63 113.24 174.9 113.51 186.17 113.91 197.44 114.45 208.72 115.17 219.99 116.09 231.26 117.24 242.54 118.64 253.81 120.32 265.08 122.29 276.35 124.59 287.63 127.25 298.9 130.27 310.17 133.7 321.44 137.56 332.72 141.86 343.99 146.64 355.26 151.93 366.54 157.74 377.81 164.1 389.08 171.04 400.35 178.58 411.63 186.75 422.9 195.58 434.17 205.09 445.44 215.3 456.72 226.24 467.99 237.94 479.26 250.42 490.54 263.7 501.81 277.83 513.08 292.81 524.35 308.67 535.63 325.45 546.9 343.17 558.17 361.85 569.44 381.51"/><polyline points="118.54 112.99 129.81 113 141.08 113.03 152.35 113.12 163.63 113.29 174.9 113.55 186.17 113.95 197.44 114.49 208.72 115.21 219.99 116.13 231.26 117.28 242.54 118.68 253.81 120.35 265.08 122.32 276.35 124.61 287.63 127.26 298.9 130.28 310.17 133.69 321.44 137.53 332.72 141.82 343.99 146.58 355.26 151.85 366.54 157.63 377.81 163.97 389.08 170.87 400.35 178.38 411.63 186.51 422.9 195.29 434.17 204.74 445.44 214.89 456.72 225.77 467.99 237.4 479.26 249.8 490.54 263 501.81 277.03 513.08 291.91 524.35 307.66 535.63 324.32 546.9 341.9 558.17 360.43 569.44 379.95"/><polyline points="118.54 113.41 129.81 113.42 141.08 113.45 152.35 113.54 163.63 113.71 174.9 113.97 186.17 114.37 197.44 114.91 208.72 115.63 219.99 116.55 231.26 117.7 242.54 119.09 253.81 120.76 265.08 122.72 276.35 125.01 287.63 127.65 298.9 130.66 310.17 134.07 321.44 137.9 332.72 142.18 343.99 146.93 355.26 152.17 366.54 157.94 377.81 164.25 389.08 171.14 400.35 178.61 411.63 186.71 422.9 195.46 434.17 204.87 445.44 214.98 456.72 225.81 467.99 237.38 479.26 249.72 490.54 262.86 501.81 276.81 513.08 291.61 524.35 307.28 535.63 323.85 546.9 341.33 558.17 359.76 569.44 379.15"/><polyline points="118.54 113.44 129.81 113.45 141.08 113.48 152.35 113.57 163.63 113.73 174.9 114 186.17 114.4 197.44 114.94 208.72 115.67 219.99 116.59 231.26 117.75 242.54 119.15 253.81 120.84 265.08 122.83 276.35 125.14 287.63 127.81 298.9 130.86 310.17 134.32 321.44 138.21 332.72 142.55 343.99 147.38 355.26 152.71 366.54 158.59 377.81 165.02 389.08 172.04 400.35 179.67 411.63 187.95 422.9 196.89 434.17 206.52 445.44 216.87 456.72 227.97 467.99 239.85 479.26 252.52 490.54 266.02 501.81 280.37 513.08 295.61 524.35 311.75 535.63 328.83 546.9 346.87 558.17 365.9 569.44 385.95"/><polyline points="118.54 112.99 129.81 113 141.08 113.03 152.35 113.12 163.63 113.28 174.9 113.55 186.17 113.94 197.44 114.49 208.72 115.21 219.99 116.13 231.26 117.28 242.54 118.68 253.81 120.36 265.08 122.33 276.35 124.63 287.63 127.28 298.9 130.31 310.17 133.74 321.44 137.59 332.72 141.9 343.99 146.68 355.26 151.96 366.54 157.77 377.81 164.13 389.08 171.07 400.35 178.62 411.63 186.79 422.9 195.61 434.17 205.12 445.44 215.33 456.72 226.27 467.99 237.96 479.26 250.44 490.54 263.73 501.81 277.85 513.08 292.83 524.35 308.69 535.63 325.47 546.9 343.18 558.17 361.86 569.44 381.53"/><polyline points="118.54 112.79 129.81 112.8 141.08 112.83 152.35 112.92 163.63 113.08 174.9 113.35 186.17 113.74 197.44 114.29 208.72 115.01 219.99 115.93 231.26 117.08 242.54 118.48 253.81 120.16 265.08 122.13 276.35 124.43 287.63 127.09 298.9 130.11 310.17 133.54 321.44 137.4 332.72 141.7 343.99 146.48 355.26 151.77 366.54 157.58 377.81 163.94 389.08 170.88 400.35 178.43 411.63 186.6 422.9 195.42 434.17 204.93 445.44 215.14 456.72 226.08 467.99 237.78 479.26 250.27 490.54 263.56 501.81 277.68 513.08 292.66 524.35 308.53 535.63 325.31 546.9 343.03 558.17 361.71 569.44 381.38"/><polyline points="118.54 113.56 129.81 113.56 141.08 113.6 152.35 113.68 163.63 113.85 174.9 114.12 186.17 114.51 197.44 115.05 208.72 115.77 219.99 116.69 231.26 117.83 242.54 119.23 253.81 120.89 265.08 122.86 276.35 125.15 287.63 127.78 298.9 130.79 310.17 134.19 321.44 138.02 332.72 142.29 343.99 147.03 355.26 152.26 366.54 158.02 377.81 164.32 389.08 171.18 400.35 178.65 411.63 186.73 422.9 195.45 434.17 204.84 445.44 214.92 456.72 225.72 467.99 237.26 479.26 249.57 490.54 262.66 501.81 276.58 513.08 291.33 524.35 306.95 535.63 323.46 546.9 340.88 558.17 359.24 569.44 378.57"/><polyline points="118.54 113.53 129.81 113.53 141.08 113.57 152.35 113.65 163.63 113.82 174.9 114.09 186.17 114.48 197.44 115.02 208.72 115.74 219.99 116.67 231.26 117.81 242.54 119.21 253.81 120.88 265.08 122.85 276.35 125.15 287.63 127.79 298.9 130.81 310.17 134.23 321.44 138.07 332.72 142.37 343.99 147.13 355.26 152.4 366.54 158.19 377.81 164.52 389.08 171.44 400.35 178.95 411.63 187.09 422.9 195.87 434.17 205.33 445.44 215.49 456.72 226.38 467.99 238.02 479.26 250.43 490.54 263.65 501.81 277.69 513.08 292.58 524.35 308.36 535.63 325.03 546.9 342.63 558.17 361.19 569.44 380.73"/><polyline points="118.54 112.8 129.81 112.81 141.08 112.84 152.35 112.93 163.63 113.09 174.9 113.36 186.17 113.75 197.44 114.3 208.72 115.02 219.99 115.94 231.26 117.09 242.54 118.49 253.81 120.16 265.08 122.13 276.35 124.43 287.63 127.07 298.9 130.09 310.17 133.51 321.44 137.36 332.72 141.65 343.99 146.42 355.26 151.68 366.54 157.47 377.81 163.82 389.08 170.73 400.35 178.25 411.63 186.39 422.9 195.18 434.17 204.64 445.44 214.81 456.72 225.7 467.99 237.35 479.26 249.77 490.54 262.99 501.81 277.04 513.08 291.94 524.35 307.73 535.63 324.41 546.9 342.03 558.17 360.6 569.44 380.15"/><polyline points="118.54 113.24 129.81 113.25 141.08 113.28 152.35 113.37 163.63 113.53 174.9 113.8 186.17 114.19 197.44 114.74 208.72 115.46 219.99 116.38 231.26 117.53 242.54 118.92 253.81 120.6 265.08 122.57 276.35 124.87 287.63 127.51 298.9 130.53 310.17 133.95 321.44 137.8 332.72 142.09 343.99 146.86 355.26 152.12 366.54 157.92 377.81 164.26 389.08 171.17 400.35 178.69 411.63 186.83 422.9 195.62 434.17 205.09 445.44 215.25 456.72 226.15 467.99 237.79 479.26 250.21 490.54 263.44 501.81 277.49 513.08 292.39 524.35 308.18 535.63 324.86 546.9 342.48 558.17 361.05 569.44 380.61"/><polyline points="118.54 112.98 129.81 112.98 141.08 113.02 152.35 113.1 163.63 113.27 174.9 113.54 186.17 113.93 197.44 114.48 208.72 115.2 219.99 116.12 231.26 117.27 242.54 118.67 253.81 120.35 265.08 122.32 276.35 124.62 287.63 127.28 298.9 130.31 310.17 133.74 321.44 137.59 332.72 141.9 343.99 146.69 355.26 151.97 366.54 157.79 377.81 164.15 389.08 171.1 400.35 178.65 411.63 186.83 422.9 195.66 434.17 205.18 445.44 215.4 456.72 226.35 467.99 238.06 479.26 250.56 490.54 263.86 501.81 278 513.08 293 524.35 308.88 535.63 325.68 546.9 343.42 558.17 362.13 569.44 381.82"/><polyline points="118.54 113.04 129.81 113.05 141.08 113.08 152.35 113.17 163.63 113.33 174.9 113.6 186.17 113.99 197.44 114.54 208.72 115.26 219.99 116.18 231.26 117.33 242.54 118.72 253.81 120.39 265.08 122.36 276.35 124.66 287.63 127.3 298.9 130.31 310.17 133.73 321.44 137.57 332.72 141.85 343.99 146.61 355.26 151.87 366.54 157.65 377.81 163.97 389.08 170.87 400.35 178.37 411.63 186.49 422.9 195.26 434.17 204.7 445.44 214.84 456.72 225.7 467.99 237.32 479.26 249.7 490.54 262.88 501.81 276.89 513.08 291.74 524.35 307.47 535.63 324.1 546.9 341.65 558.17 360.16 569.44 379.64"/><polyline points="118.54 112.55 129.81 112.55 141.08 112.59 152.35 112.68 163.63 112.84 174.9 113.11 186.17 113.5 197.44 114.05 208.72 114.77 219.99 115.69 231.26 116.84 242.54 118.24 253.81 119.91 265.08 121.88 276.35 124.18 287.63 126.83 298.9 129.86 310.17 133.28 321.44 137.13 332.72 141.43 343.99 146.21 355.26 151.49 366.54 157.29 377.81 163.64 389.08 170.57 400.35 178.1 411.63 186.26 422.9 195.08 434.17 204.57 445.44 214.76 456.72 225.68 467.99 237.36 479.26 249.81 490.54 263.08 501.81 277.17 513.08 292.12 524.35 307.95 535.63 324.69 546.9 342.37 558.17 361.01 569.44 380.63"/><polyline points="118.54 113.48 129.81 113.49 141.08 113.52 152.35 113.61 163.63 113.77 174.9 114.04 186.17 114.43 197.44 114.98 208.72 115.7 219.99 116.62 231.26 117.76 242.54 119.16 253.81 120.83 265.08 122.8 276.35 125.09 287.63 127.73 298.9 130.75 310.17 134.16 321.44 137.99 332.72 142.28 343.99 147.03 355.26 152.29 366.54 158.06 377.81 164.38 389.08 171.28 400.35 178.77 411.63 186.88 422.9 195.65 434.17 205.08 445.44 215.21 456.72 226.06 467.99 237.66 479.26 250.03 490.54 263.2 501.81 277.19 513.08 292.03 524.35 307.74 535.63 324.35 546.9 341.88 558.17 360.36 569.44 379.82"/><polyline points="118.54 113.33 129.81 113.34 141.08 113.37 152.35 113.46 163.63 113.62 174.9 113.89 186.17 114.28 197.44 114.83 208.72 115.55 219.99 116.47 231.26 117.62 242.54 119.01 253.81 120.69 265.08 122.66 276.35 124.95 287.63 127.6 298.9 130.62 310.17 134.03 321.44 137.87 332.72 142.16 343.99 146.93 355.26 152.19 366.54 157.98 377.81 164.31 389.08 171.22 400.35 178.73 411.63 186.87 422.9 195.65 434.17 205.1 445.44 215.26 456.72 226.14 467.99 237.77 479.26 250.18 490.54 263.39 501.81 277.42 513.08 292.31 524.35 308.07 535.63 324.73 546.9 342.33 558.17 360.87 569.44 380.39"/><polyline points="118.54 113.18 129.81 113.19 141.08 113.22 152.35 113.31 163.63 113.47 174.9 113.74 186.17 114.13 197.44 114.68 208.72 115.4 219.99 116.32 231.26 117.46 242.54 118.85 253.81 120.52 265.08 122.49 276.35 124.78 287.63 127.42 298.9 130.43 310.17 133.83 321.44 137.66 332.72 141.94 343.99 146.69 355.26 151.93 366.54 157.7 377.81 164.01 389.08 170.89 400.35 178.36 411.63 186.46 422.9 195.2 434.17 204.61 445.44 214.71 456.72 225.54 467.99 237.11 479.26 249.44 490.54 262.57 501.81 276.52 513.08 291.32 524.35 306.98 535.63 323.53 546.9 341.01 558.17 359.43 569.44 378.81"/><polyline points="118.54 113.41 129.81 113.41 141.08 113.45 152.35 113.53 163.63 113.7 174.9 113.97 186.17 114.36 197.44 114.9 208.72 115.63 219.99 116.55 231.26 117.69 242.54 119.09 253.81 120.77 265.08 122.74 276.35 125.04 287.63 127.68 298.9 130.71 310.17 134.13 321.44 137.97 332.72 142.27 343.99 147.04 355.26 152.31 366.54 158.11 377.81 164.46 389.08 171.38 400.35 178.9 411.63 187.05 422.9 195.85 434.17 205.33 445.44 215.51 456.72 226.41 467.99 238.07 479.26 250.51 490.54 263.75 501.81 277.82 513.08 292.75 524.35 308.55 535.63 325.26 546.9 342.91 558.17 361.51 569.44 381.09"/><polyline points="118.54 113.95 129.81 113.96 141.08 113.99 152.35 114.08 163.63 114.24 174.9 114.51 186.17 114.9 197.44 115.45 208.72 116.17 219.99 117.09 231.26 118.24 242.54 119.64 253.81 121.32 265.08 123.3 276.35 125.6 287.63 128.25 298.9 131.28 310.17 134.71 321.44 138.57 332.72 142.88 343.99 147.67 355.26 152.96 366.54 158.77 377.81 165.14 389.08 172.09 400.35 179.64 411.63 187.83 422.9 196.66 434.17 206.18 445.44 216.41 456.72 227.37 467.99 239.08 479.26 251.58 490.54 264.9 501.81 279.04 513.08 294.05 524.35 309.95 535.63 326.76 546.9 344.51 558.17 363.22 569.44 382.93"/><polyline points="118.54 112.78 129.81 112.78 141.08 112.82 152.35 112.9 163.63 113.07 174.9 113.34 186.17 113.73 197.44 114.28 208.72 115 219.99 115.92 231.26 117.07 242.54 118.47 253.81 120.14 265.08 122.12 276.35 124.42 287.63 127.07 298.9 130.1 310.17 133.53 321.44 137.38 332.72 141.69 343.99 146.47 355.26 151.76 366.54 157.57 377.81 163.93 389.08 170.87 400.35 178.42 411.63 186.59 422.9 195.42 434.17 204.93 445.44 215.14 456.72 226.09 467.99 237.79 479.26 250.27 490.54 263.56 501.81 277.69 513.08 292.68 524.35 308.55 535.63 325.33 546.9 343.06 558.17 361.74 569.44 381.42"/><polyline points="118.54 113.42 129.81 113.42 141.08 113.46 152.35 113.55 163.63 113.71 174.9 113.98 186.17 114.37 197.44 114.92 208.72 115.64 219.99 116.56 231.26 117.71 242.54 119.12 253.81 120.79 265.08 122.77 276.35 125.08 287.63 127.73 298.9 130.77 310.17 134.2 321.44 138.06 332.72 142.38 343.99 147.17 355.26 152.47 366.54 158.29 377.81 164.67 389.08 171.63 400.35 179.19 411.63 187.39 422.9 196.24 434.17 205.78 445.44 216.03 456.72 227.01 467.99 238.75 479.26 251.27 490.54 264.61 501.81 278.79 513.08 293.83 524.35 309.76 535.63 326.62 546.9 344.41 558.17 363.17 569.44 382.93"/><polyline points="118.54 113.05 129.81 113.06 141.08 113.09 152.35 113.18 163.63 113.34 174.9 113.61 186.17 114 197.44 114.55 208.72 115.27 219.99 116.19 231.26 117.34 242.54 118.73 253.81 120.41 265.08 122.38 276.35 124.67 287.63 127.32 298.9 130.34 310.17 133.76 321.44 137.6 332.72 141.89 343.99 146.66 355.26 151.93 366.54 157.72 377.81 164.05 389.08 170.97 400.35 178.48 411.63 186.62 422.9 195.41 434.17 204.87 445.44 215.03 456.72 225.92 467.99 237.56 479.26 249.97 490.54 263.19 501.81 277.24 513.08 292.13 524.35 307.91 535.63 324.59 546.9 342.19 558.17 360.75 569.44 380.29"/><polyline points="118.54 113.56 129.81 113.56 141.08 113.6 152.35 113.69 163.63 113.85 174.9 114.12 186.17 114.51 197.44 115.06 208.72 115.78 219.99 116.7 231.26 117.84 242.54 119.24 253.81 120.91 265.08 122.88 276.35 125.17 287.63 127.81 298.9 130.83 310.17 134.24 321.44 138.08 332.72 142.36 343.99 147.12 355.26 152.37 366.54 158.15 377.81 164.47 389.08 171.37 400.35 178.87 411.63 186.98 422.9 195.75 434.17 205.18 445.44 215.32 456.72 226.17 467.99 237.78 479.26 250.16 490.54 263.33 501.81 277.33 513.08 292.17 524.35 307.89 535.63 324.51 546.9 342.05 558.17 360.54 569.44 380.01"/><polyline points="118.54 113.14 129.81 113.15 141.08 113.18 152.35 113.27 163.63 113.44 174.9 113.7 186.17 114.1 197.44 114.64 208.72 115.36 219.99 116.28 231.26 117.43 242.54 118.82 253.81 120.49 265.08 122.46 276.35 124.75 287.63 127.39 298.9 130.41 310.17 133.82 321.44 137.65 332.72 141.94 343.99 146.69 355.26 151.95 366.54 157.72 377.81 164.04 389.08 170.94 400.35 178.43 411.63 186.54 422.9 195.3 434.17 204.73 445.44 214.86 456.72 225.71 467.99 237.31 479.26 249.68 490.54 262.85 501.81 276.84 513.08 291.68 524.35 307.38 535.63 323.99 546.9 341.52 558.17 360 569.44 379.45"/><polyline points="118.54 113.4 129.81 113.41 141.08 113.44 152.35 113.53 163.63 113.69 174.9 113.96 186.17 114.35 197.44 114.9 208.72 115.62 219.99 116.53 231.26 117.68 242.54 119.07 253.81 120.74 265.08 122.7 276.35 124.99 287.63 127.62 298.9 130.62 310.17 134.03 321.44 137.85 332.72 142.11 343.99 146.85 355.26 152.08 366.54 157.83 377.81 164.13 389.08 170.99 400.35 178.44 411.63 186.52 422.9 195.23 434.17 204.61 445.44 214.68 456.72 225.47 467.99 236.99 479.26 249.29 490.54 262.37 501.81 276.26 513.08 291 524.35 306.59 535.63 323.08 546.9 340.48 558.17 358.81 569.44 378.11"/><polyline points="118.54 113.1 129.81 113.11 141.08 113.14 152.35 113.23 163.63 113.39 174.9 113.66 186.17 114.05 197.44 114.6 208.72 115.32 219.99 116.24 231.26 117.39 242.54 118.79 253.81 120.46 265.08 122.43 276.35 124.73 287.63 127.38 298.9 130.4 310.17 133.82 321.44 137.67 332.72 141.97 343.99 146.74 355.26 152.01 366.54 157.81 377.81 164.16 389.08 171.08 400.35 178.6 411.63 186.75 422.9 195.55 434.17 205.03 445.44 215.21 456.72 226.12 467.99 237.78 479.26 250.22 490.54 263.46 501.81 277.54 513.08 292.46 524.35 308.27 535.63 324.99 546.9 342.63 558.17 361.24 569.44 380.82"/><polyline points="118.54 113.37 129.81 113.37 141.08 113.41 152.35 113.49 163.63 113.66 174.9 113.93 186.17 114.32 197.44 114.86 208.72 115.59 219.99 116.51 231.26 117.66 242.54 119.05 253.81 120.73 265.08 122.7 276.35 125 287.63 127.65 298.9 130.67 310.17 134.1 321.44 137.94 332.72 142.24 343.99 147.02 355.26 152.29 366.54 158.09 377.81 164.44 389.08 171.37 400.35 178.9 411.63 187.06 422.9 195.86 434.17 205.35 445.44 215.54 456.72 226.45 467.99 238.12 479.26 250.57 490.54 263.83 501.81 277.91 513.08 292.85 524.35 308.67 535.63 325.4 546.9 343.07 558.17 361.69 569.44 381.3"/><polyline points="118.54 112.97 129.81 112.98 141.08 113.01 152.35 113.1 163.63 113.26 174.9 113.53 186.17 113.92 197.44 114.47 208.72 115.19 219.99 116.11 231.26 117.26 242.54 118.66 253.81 120.33 265.08 122.31 276.35 124.6 287.63 127.25 298.9 130.28 310.17 133.7 321.44 137.55 332.72 141.85 343.99 146.63 355.26 151.9 366.54 157.7 377.81 164.05 389.08 170.98 400.35 178.51 411.63 186.67 422.9 195.48 434.17 204.96 445.44 215.15 456.72 226.07 467.99 237.74 479.26 250.19 490.54 263.45 501.81 277.54 513.08 292.48 524.35 308.3 535.63 325.04 546.9 342.7 558.17 361.33 569.44 380.94"/><polyline points="118.54 112.91 129.81 112.91 141.08 112.95 152.35 113.04 163.63 113.2 174.9 113.47 186.17 113.86 197.44 114.41 208.72 115.13 219.99 116.05 231.26 117.19 242.54 118.59 253.81 120.26 265.08 122.23 276.35 124.52 287.63 127.16 298.9 130.18 310.17 133.59 321.44 137.43 332.72 141.72 343.99 146.48 355.26 151.73 366.54 157.51 377.81 163.84 389.08 170.74 400.35 178.24 411.63 186.36 422.9 195.13 434.17 204.57 445.44 214.71 456.72 225.57 467.99 237.18 479.26 249.56 490.54 262.75 501.81 276.75 513.08 291.61 524.35 307.33 535.63 323.96 546.9 341.52 558.17 360.02 569.44 379.5"/><polyline points="118.54 112.83 129.81 112.84 141.08 112.87 152.35 112.96 163.63 113.12 174.9 113.39 186.17 113.78 197.44 114.33 208.72 115.05 219.99 115.97 231.26 117.11 242.54 118.51 253.81 120.18 265.08 122.15 276.35 124.44 287.63 127.08 298.9 130.09 310.17 133.5 321.44 137.34 332.72 141.62 343.99 146.38 355.26 151.63 366.54 157.4 377.81 163.72 389.08 170.61 400.35 178.1 411.63 186.21 422.9 194.97 434.17 204.4 445.44 214.52 456.72 225.37 467.99 236.97 479.26 249.33 490.54 262.49 501.81 276.48 513.08 291.31 524.35 307.01 535.63 323.61 546.9 341.13 558.17 359.6 569.44 379.04"/><polyline points="118.54 113.24 129.81 113.24 141.08 113.28 152.35 113.36 163.63 113.53 174.9 113.8 186.17 114.19 197.44 114.74 208.72 115.46 219.99 116.38 231.26 117.54 242.54 118.94 253.81 120.62 265.08 122.6 276.35 124.91 287.63 127.57 298.9 130.61 310.17 134.05 321.44 137.93 332.72 142.25 343.99 147.06 355.26 152.37 366.54 158.21 377.81 164.61 389.08 171.59 400.35 179.18 411.63 187.41 422.9 196.29 434.17 205.87 445.44 216.15 456.72 227.18 467.99 238.97 479.26 251.55 490.54 264.95 501.81 279.19 513.08 294.31 524.35 310.32 535.63 327.26 546.9 345.14 558.17 364.01 569.44 383.87"/><polyline points="118.54 113.13 129.81 113.14 141.08 113.17 152.35 113.26 163.63 113.42 174.9 113.69 186.17 114.08 197.44 114.63 208.72 115.35 219.99 116.27 231.26 117.41 242.54 118.81 253.81 120.48 265.08 122.45 276.35 124.74 287.63 127.38 298.9 130.39 310.17 133.81 321.44 137.64 332.72 141.92 343.99 146.68 355.26 151.93 366.54 157.7 377.81 164.03 389.08 170.92 400.35 178.41 411.63 186.52 422.9 195.28 434.17 204.71 445.44 214.84 456.72 225.69 467.99 237.28 479.26 249.65 490.54 262.81 501.81 276.8 513.08 291.63 524.35 307.34 535.63 323.94 546.9 341.46 558.17 359.94 569.44 379.38"/><polyline points="118.54 113.17 129.81 113.18 141.08 113.21 152.35 113.3 163.63 113.46 174.9 113.73 186.17 114.12 197.44 114.67 208.72 115.39 219.99 116.31 231.26 117.46 242.54 118.85 253.81 120.52 265.08 122.49 276.35 124.78 287.63 127.43 298.9 130.44 310.17 133.86 321.44 137.7 332.72 141.98 343.99 146.74 355.26 152 366.54 157.78 377.81 164.11 389.08 171.01 400.35 178.51 411.63 186.63 422.9 195.4 434.17 204.84 445.44 214.98 456.72 225.84 467.99 237.46 479.26 249.84 490.54 263.03 501.81 277.03 513.08 291.89 524.35 307.62 535.63 324.25 546.9 341.81 558.17 360.32 569.44 379.8"/><polyline points="118.54 113.35 129.81 113.36 141.08 113.39 152.35 113.48 163.63 113.65 174.9 113.91 186.17 114.31 197.44 114.85 208.72 115.57 219.99 116.5 231.26 117.64 242.54 119.04 253.81 120.72 265.08 122.69 276.35 124.99 287.63 127.64 298.9 130.66 310.17 134.09 321.44 137.94 332.72 142.24 343.99 147.02 355.26 152.3 366.54 158.1 377.81 164.46 389.08 171.39 400.35 178.92 411.63 187.08 422.9 195.9 434.17 205.39 445.44 215.58 456.72 226.51 467.99 238.19 479.26 250.65 490.54 263.91 501.81 278.01 513.08 292.97 524.35 308.81 535.63 325.55 546.9 343.23 558.17 361.88 569.44 381.5"/><polyline points="118.54 113.49 129.81 113.49 141.08 113.53 152.35 113.62 163.63 113.78 174.9 114.05 186.17 114.44 197.44 114.98 208.72 115.7 219.99 116.62 231.26 117.77 242.54 119.16 253.81 120.83 265.08 122.79 276.35 125.08 287.63 127.72 298.9 130.73 310.17 134.13 321.44 137.96 332.72 142.23 343.99 146.98 355.26 152.22 366.54 157.98 377.81 164.28 389.08 171.15 400.35 178.62 411.63 186.71 422.9 195.44 434.17 204.84 445.44 214.94 456.72 225.75 467.99 237.3 479.26 249.62 490.54 262.74 501.81 276.67 513.08 291.44 524.35 307.08 535.63 323.61 546.9 341.06 558.17 359.45 569.44 378.81"/><polyline points="118.54 113.17 129.81 113.18 141.08 113.21 152.35 113.3 163.63 113.46 174.9 113.73 186.17 114.13 197.44 114.67 208.72 115.39 219.99 116.31 231.26 117.46 242.54 118.86 253.81 120.54 265.08 122.51 276.35 124.81 287.63 127.46 298.9 130.49 310.17 133.91 321.44 137.77 332.72 142.07 343.99 146.85 355.26 152.13 366.54 157.94 377.81 164.29 389.08 171.23 400.35 178.77 411.63 186.93 422.9 195.75 434.17 205.25 445.44 215.45 456.72 226.39 467.99 238.07 479.26 250.54 490.54 263.82 501.81 277.93 513.08 292.89 524.35 308.74 535.63 325.5 546.9 343.2 558.17 361.86 569.44 381.51"/><polyline points="118.54 113.6 129.81 113.61 141.08 113.64 152.35 113.73 163.63 113.89 174.9 114.16 186.17 114.55 197.44 115.1 208.72 115.82 219.99 116.74 231.26 117.89 242.54 119.29 253.81 120.96 265.08 122.93 276.35 125.23 287.63 127.88 298.9 130.9 310.17 134.32 321.44 138.17 332.72 142.47 343.99 147.24 355.26 152.52 366.54 158.31 377.81 164.66 389.08 171.59 400.35 179.11 411.63 187.26 422.9 196.07 434.17 205.55 445.44 215.73 456.72 226.64 467.99 238.3 479.26 250.74 490.54 263.99 501.81 278.07 513.08 293 524.35 308.81 535.63 325.53 546.9 343.18 558.17 361.79 569.44 381.38"/><polyline points="118.54 112.8 129.81 112.81 141.08 112.84 152.35 112.93 163.63 113.1 174.9 113.36 186.17 113.76 197.44 114.3 208.72 115.02 219.99 115.94 231.26 117.09 242.54 118.48 253.81 120.16 265.08 122.13 276.35 124.42 287.63 127.06 298.9 130.08 310.17 133.5 321.44 137.33 332.72 141.62 343.99 146.38 355.26 151.64 366.54 157.43 377.81 163.76 389.08 170.66 400.35 178.16 411.63 186.29 422.9 195.06 434.17 204.51 445.44 214.66 456.72 225.53 467.99 237.14 479.26 249.54 490.54 262.73 501.81 276.75 513.08 291.61 524.35 307.36 535.63 324 546.9 341.57 558.17 360.09 569.44 379.59"/><polyline points="118.54 113.43 129.81 113.43 141.08 113.47 152.35 113.55 163.63 113.72 174.9 113.98 186.17 114.38 197.44 114.92 208.72 115.64 219.99 116.56 231.26 117.7 242.54 119.1 253.81 120.76 265.08 122.73 276.35 125.02 287.63 127.65 298.9 130.66 310.17 134.07 321.44 137.89 332.72 142.16 343.99 146.91 355.26 152.15 366.54 157.9 377.81 164.21 389.08 171.08 400.35 178.54 411.63 186.63 422.9 195.36 434.17 204.75 445.44 214.84 456.72 225.65 467.99 237.2 479.26 249.51 490.54 262.62 501.81 276.55 513.08 291.31 524.35 306.95 535.63 323.47 546.9 340.91 558.17 359.29 569.44 378.63"/><polyline points="118.54 112.81 129.81 112.81 141.08 112.85 152.35 112.94 163.63 113.1 174.9 113.37 186.17 113.76 197.44 114.3 208.72 115.02 219.99 115.94 231.26 117.09 242.54 118.48 253.81 120.15 265.08 122.12 276.35 124.41 287.63 127.05 298.9 130.06 310.17 133.47 321.44 137.3 332.72 141.58 343.99 146.33 355.26 151.58 366.54 157.35 377.81 163.67 389.08 170.55 400.35 178.04 411.63 186.14 422.9 194.89 434.17 204.31 445.44 214.43 456.72 225.26 467.99 236.84 479.26 249.2 490.54 262.34 501.81 276.31 513.08 291.12 524.35 306.81 535.63 323.39 546.9 340.89 558.17 359.33 569.44 378.75"/><polyline points="118.54 112.99 129.81 113 141.08 113.03 152.35 113.12 163.63 113.28 174.9 113.55 186.17 113.94 197.44 114.49 208.72 115.21 219.99 116.13 231.26 117.27 242.54 118.67 253.81 120.33 265.08 122.3 276.35 124.59 287.63 127.23 298.9 130.24 310.17 133.65 321.44 137.48 332.72 141.75 343.99 146.5 355.26 151.74 366.54 157.51 377.81 163.82 389.08 170.7 400.35 178.18 411.63 186.27 422.9 195.02 434.17 204.43 445.44 214.53 456.72 225.36 467.99 236.92 479.26 249.26 490.54 262.4 501.81 276.35 513.08 291.14 524.35 306.8 535.63 323.36 546.9 340.84 558.17 359.26 569.44 378.64"/><polyline points="118.54 113.06 129.81 113.07 141.08 113.1 152.35 113.19 163.63 113.35 174.9 113.62 186.17 114.01 197.44 114.56 208.72 115.28 219.99 116.2 231.26 117.34 242.54 118.74 253.81 120.41 265.08 122.38 276.35 124.67 287.63 127.31 298.9 130.32 310.17 133.74 321.44 137.57 332.72 141.85 343.99 146.61 355.26 151.86 366.54 157.64 377.81 163.96 389.08 170.85 400.35 178.34 411.63 186.45 422.9 195.21 434.17 204.65 445.44 214.77 456.72 225.62 467.99 237.22 479.26 249.59 490.54 262.75 501.81 276.74 513.08 291.57 524.35 307.28 535.63 323.88 546.9 341.41 558.17 359.89 569.44 379.33"/><polyline points="118.54 113.44 129.81 113.45 141.08 113.48 152.35 113.57 163.63 113.73 174.9 114 186.17 114.39 197.44 114.94 208.72 115.66 219.99 116.58 231.26 117.72 242.54 119.11 253.81 120.78 265.08 122.74 276.35 125.03 287.63 127.67 298.9 130.67 310.17 134.08 321.44 137.9 332.72 142.17 343.99 146.92 355.26 152.15 366.54 157.91 377.81 164.21 389.08 171.08 400.35 178.54 411.63 186.62 422.9 195.35 434.17 204.74 445.44 214.83 456.72 225.63 467.99 237.17 479.26 249.48 490.54 262.59 501.81 276.5 513.08 291.26 524.35 306.89 535.63 323.4 546.9 340.83 558.17 359.2 569.44 378.54"/><polyline points="118.54 113.15 129.81 113.16 141.08 113.19 152.35 113.28 163.63 113.44 174.9 113.71 186.17 114.1 197.44 114.65 208.72 115.36 219.99 116.28 231.26 117.43 242.54 118.82 253.81 120.48 265.08 122.44 276.35 124.73 287.63 127.36 298.9 130.36 310.17 133.76 321.44 137.58 332.72 141.84 343.99 146.57 355.26 151.8 366.54 157.54 377.81 163.83 389.08 170.68 400.35 178.12 411.63 186.18 422.9 194.88 434.17 204.25 445.44 214.3 456.72 225.07 467.99 236.58 479.26 248.84 490.54 261.9 501.81 275.77 513.08 290.47 524.35 306.04 535.63 322.49 546.9 339.85 558.17 358.14 569.44 377.39"/><polyline points="118.54 113.8 129.81 113.81 141.08 113.84 152.35 113.93 163.63 114.1 174.9 114.36 186.17 114.76 197.44 115.3 208.72 116.02 219.99 116.94 231.26 118.09 242.54 119.48 253.81 121.15 265.08 123.12 276.35 125.41 287.63 128.06 298.9 131.07 310.17 134.48 321.44 138.32 332.72 142.6 343.99 147.36 355.26 152.61 366.54 158.39 377.81 164.71 389.08 171.61 400.35 179.1 411.63 187.22 422.9 195.98 434.17 205.41 445.44 215.55 456.72 226.4 467.99 238 479.26 250.38 490.54 263.55 501.81 277.54 513.08 292.38 524.35 308.1 535.63 324.71 546.9 342.25 558.17 360.73 569.44 380.19"/><polyline points="118.54 112.94 129.81 112.94 141.08 112.98 152.35 113.06 163.63 113.23 174.9 113.5 186.17 113.89 197.44 114.43 208.72 115.16 219.99 116.08 231.26 117.23 242.54 118.62 253.81 120.3 265.08 122.27 276.35 124.57 287.63 127.22 298.9 130.25 310.17 133.67 321.44 137.52 332.72 141.82 343.99 146.6 355.26 151.87 366.54 157.68 377.81 164.03 389.08 170.96 400.35 178.49 411.63 186.65 422.9 195.47 434.17 204.96 445.44 215.15 456.72 226.07 467.99 237.75 479.26 250.21 490.54 263.47 501.81 277.56 513.08 292.51 524.35 308.35 535.63 325.09 546.9 342.77 558.17 361.4 569.44 381.03"/><polyline points="118.54 113.09 129.81 113.09 141.08 113.13 152.35 113.22 163.63 113.38 174.9 113.65 186.17 114.04 197.44 114.58 208.72 115.3 219.99 116.23 231.26 117.37 242.54 118.77 253.81 120.44 265.08 122.4 276.35 124.7 287.63 127.34 298.9 130.35 310.17 133.76 321.44 137.6 332.72 141.88 343.99 146.64 355.26 151.89 366.54 157.67 377.81 163.99 389.08 170.88 400.35 178.38 411.63 186.49 422.9 195.25 434.17 204.68 445.44 214.81 456.72 225.66 467.99 237.26 479.26 249.63 490.54 262.8 501.81 276.79 513.08 291.63 524.35 307.34 535.63 323.94 546.9 341.47 558.17 359.95 569.44 379.4"/></g>
<path d="M118.54 113.7 L129.81 113.7 L141.08 113.73 L152.35 113.81 L163.63 113.96 L174.9 114.21 L186.17 114.58 L197.44 115.1 L208.72 115.79 L219.99 116.67 L231.26 117.78 L242.54 119.13 L253.81 120.75 L265.08 122.66 L276.35 124.89 L287.63 127.47 L298.9 130.41 L310.17 133.74 L321.44 137.5 L332.72 141.69 L343.99 146.34 L355.26 151.49 L366.54 157.15 L377.81 163.35 L389.08 170.11 L400.35 177.46 L411.63 185.42 L422.9 194.02 L434.17 203.28 L445.44 213.22 L456.72 223.88 L467.99 235.27 L479.26 247.42 L490.54 260.35 L501.81 274.09 L513.08 288.66 L524.35 304.09 L535.63 320.4 L546.9 337.62 L558.17 355.76 L569.44 374.87" stroke="#008000" stroke-width="2.0833"/>
</g>
<g stroke="#000" stroke-width="1.1111" fill="none" stroke-linecap="square">
<path d="M96 33.5 H593 M96 35.5 H592 M96 403.5 H592 M96 405.5 H593" stroke="#f1f1f1" stroke-width="1" stroke-linecap="butt"/>
<path d="M96.5 34.5 L592.5 34.5 L592.5 404.5 L96.5 404.5 Z"/>
<path d="M118.5 404.5 L118.5 409.5" stroke-linecap="butt"/>
<path d="M208.5 404.5 L208.5 409.5" stroke-linecap="butt"/>
<path d="M298.5 404.5 L298.5 409.5" stroke-linecap="butt"/>
<path d="M389.5 404.5 L389.5 409.5" stroke-linecap="butt"/>
<path d="M479.5 404.5 L479.5 409.5" stroke-linecap="butt"/>
<path d="M569.5 404.5 L569.5 409.5" stroke-linecap="butt"/>
<path d="M91.5 74.5 L96.5 74.5" stroke-linecap="butt"/>
<path d="M91.5 122.5 L96.5 122.5" stroke-linecap="butt"/>
<path d="M91.5 170.5 L96.5 170.5" stroke-linecap="butt"/>
<path d="M91.5 218.5 L96.5 218.5" stroke-linecap="butt"/>
<path d="M91.5 266.5 L96.5 266.5" stroke-linecap="butt"/>
<path d="M91.5 313.5 L96.5 313.5" stroke-linecap="butt"/>
<path d="M91.5 361.5 L96.5 361.5" stroke-linecap="butt"/>
</g>
<g font-family="Liberation Sans, sans-serif" fill="#000" stroke="#000" stroke-width="0.05">
<text transform="translate(73.84 25.92) scale(0.953 1.000)" x="-5.44" font-size="18.00">L</text><text transform="translate(82.79 25.92) scale(0.984 1.000)" x="-5.01" font-size="18.00">o</text><text x="88.05" y="25.92" font-size="18.00">g</text><text transform="translate(100.73 25.92) scale(0.947 1.000)" x="-2.00" font-size="18.00">i</text><text transform="translate(107.42 25.92) scale(0.888 1.000)" x="-4.43" font-size="18.00">s</text><text transform="translate(114.99 25.92) scale(1.200 1.000)" x="-2.57" font-size="18.00">t</text><text transform="translate(120.53 25.92) scale(0.947 1.000)" x="-2.00" font-size="18.00">i</text><text transform="translate(127.36 25.92) scale(0.929 1.000)" x="-4.65" font-size="18.00">c</text><text transform="translate(143.63 25.92) scale(0.886 1.000)" x="-6.82" font-size="18.00">R</text><text x="148.96" y="25.92" font-size="18.00">e</text><text x="159.23" y="25.92" font-size="18.00">g</text><text transform="translate(173.77 25.92) scale(1.186 1.000)" x="-3.45" font-size="18.00">r</text><text x="176.58" y="25.92" font-size="18.00">e</text><text transform="translate(191.04 25.92) scale(0.888 1.000)" x="-4.43" font-size="18.00">s</text><text transform="translate(199.70 25.92) scale(0.888 1.000)" x="-4.43" font-size="18.00">s</text><text transform="translate(206.30 25.92) scale(0.947 1.000)" x="-2.00" font-size="18.00">i</text><text transform="translate(213.70 25.92) scale(0.984 1.000)" x="-5.01" font-size="18.00">o</text><text x="219.08" y="25.92" font-size="18.00">n</text><text transform="translate(239.44 25.92) scale(0.850 1.000)" x="-5.39" font-size="18.00">a</text><text x="245.09" y="25.92" font-size="18.00">n</text><text x="255.50" y="25.92" font-size="18.00">d</text><text transform="translate(276.70 25.92) scale(0.850 1.000)" x="-6.35" font-size="18.00">E</text><text transform="translate(286.78 25.92) scale(0.850 1.000)" x="-5.88" font-size="18.00">F</text><text transform="translate(297.96 25.92) scale(0.958 1.000)" x="-6.81" font-size="18.00">D</text><text transform="translate(309.72 25.92) scale(0.933 1.000)" x="-6.00" font-size="18.00">A</text><text transform="translate(326.09 25.92) scale(0.953 1.000)" x="-5.44" font-size="18.00">L</text><text transform="translate(335.04 25.92) scale(0.984 1.000)" x="-5.01" font-size="18.00">o</text><text x="340.30" y="25.92" font-size="18.00">g</text><text x="350.67" y="25.92" font-size="18.00">-</text><text transform="translate(363.22 25.92) scale(0.915 1.000)" x="-7.00" font-size="18.00">O</text><text x="369.94" y="25.92" font-size="18.00">d</text><text x="380.49" y="25.92" font-size="18.00">d</text><text transform="translate(395.24 25.92) scale(0.888 1.000)" x="-4.43" font-size="18.00">s</text><text transform="translate(409.90 25.92) scale(0.984 1.000)" x="-5.01" font-size="18.00">o</text><text x="415.40" y="25.92" font-size="18.00">v</text><text x="424.97" y="25.92" font-size="18.00">e</text><text transform="translate(439.22 25.92) scale(1.186 1.000)" x="-3.45" font-size="18.00">r</text><text transform="translate(452.61 25.92) scale(0.932 1.000)" x="-5.25" font-size="18.00">1</text><text transform="translate(463.03 25.92) scale(0.976 1.000)" x="-5.01" font-size="18.00">0</text><text transform="translate(473.61 25.92) scale(0.976 1.000)" x="-5.01" font-size="18.00">0</text><text transform="translate(487.47 25.92) scale(1.200 1.000)" x="-2.57" font-size="18.00">t</text><text transform="translate(494.88 25.92) scale(1.186 1.000)" x="-3.45" font-size="18.00">r</text><text transform="translate(499.85 25.92) scale(0.947 1.000)" x="-2.00" font-size="18.00">i</text><text transform="translate(507.00 25.92) scale(0.850 1.000)" x="-5.39" font-size="18.00">a</text><text transform="translate(514.65 25.92) scale(0.947 1.000)" x="-2.00" font-size="18.00">l</text><text transform="translate(521.34 25.92) scale(0.888 1.000)" x="-4.43" font-size="18.00">s</text><text transform="translate(528.09 25.92) scale(1.200 1.000)" x="-2.50" font-size="18.00">,</text><text x="536.45" y="25.92" font-size="18.00" font-style="italic">n</text><text transform="translate(556.94 25.92) scale(1.193 1.000)" x="-5.25" font-size="18.00">=</text><text transform="translate(572.58 25.92) scale(0.932 1.000)" x="-5.25" font-size="18.00">1</text><text transform="translate(583.00 25.92) scale(0.976 1.000)" x="-5.01" font-size="18.00">0</text><text transform="translate(593.58 25.92) scale(0.976 1.000)" x="-5.01" font-size="18.00">0</text><text transform="translate(604.16 25.92) scale(0.976 1.000)" x="-5.01" font-size="18.00">0</text><text transform="translate(614.74 25.92) scale(0.976 1.000)" x="-5.01" font-size="18.00">0</text>
<text transform="translate(67.23 80.00) scale(0.939 1.000)" x="-4.08" font-size="14.72">5</text><text transform="translate(73.92 80.00) scale(1.021 1.000)" x="-2.05" font-size="14.72">.</text><text x="76.45" y="80.00" font-size="14.72">0</text>
<text transform="translate(68.29 128.00) scale(0.959 1.000)" x="-4.09" font-size="14.72">2</text><text transform="translate(75.09 128.00) scale(1.021 1.000)" x="-2.05" font-size="14.72">.</text><text transform="translate(81.65 128.00) scale(0.939 1.000)" x="-4.08" font-size="14.72">5</text>
<text x="64.28" y="176.00" font-size="14.72">0</text><text transform="translate(75.00 176.00) scale(1.021 1.000)" x="-2.05" font-size="14.72">.</text><text x="77.53" y="176.00" font-size="14.72">0</text>
<text transform="translate(57.83 223.00) scale(1.200 1.000)" x="-4.30" font-size="14.72">−</text><text transform="translate(67.88 223.00) scale(0.959 1.000)" x="-4.09" font-size="14.72">2</text><text transform="translate(74.68 223.00) scale(1.021 1.000)" x="-2.05" font-size="14.72">.</text><text transform="translate(81.24 223.00) scale(0.939 1.000)" x="-4.08" font-size="14.72">5</text>
<text transform="translate(57.68 271.00) scale(1.200 1.000)" x="-4.30" font-size="14.72">−</text><text transform="translate(67.85 271.00) scale(0.939 1.000)" x="-4.08" font-size="14.72">5</text><text transform="translate(74.54 271.00) scale(1.021 1.000)" x="-2.05" font-size="14.72">.</text><text x="77.07" y="271.00" font-size="14.72">0</text>
<text transform="translate(57.83 319.00) scale(1.200 1.000)" x="-4.30" font-size="14.72">−</text><text transform="translate(68.04 319.00) scale(0.973 1.000)" x="-4.10" font-size="14.72">7</text><text transform="translate(74.68 319.00) scale(1.021 1.000)" x="-2.05" font-size="14.72">.</text><text transform="translate(81.24 319.00) scale(0.939 1.000)" x="-4.08" font-size="14.72">5</text>
<text transform="translate(48.76 367.00) scale(1.200 1.000)" x="-4.30" font-size="14.72">−</text><text transform="translate(59.12 367.00) scale(0.950 1.000)" x="-4.30" font-size="14.72">1</text><text x="63.74" y="367.00" font-size="14.72">0</text><text transform="translate(74.46 367.00) scale(1.021 1.000)" x="-2.05" font-size="14.72">.</text><text x="76.99" y="367.00" font-size="14.72">0</text>
<text x="114.41" y="425.00" font-size="14.72">0</text>
<text transform="translate(208.50 425.00) scale(0.950 1.000)" x="-4.30" font-size="14.72">1</text>
<text transform="translate(298.00 425.00) scale(0.959 1.000)" x="-4.09" font-size="14.72">2</text>
<text transform="translate(388.50 425.00) scale(0.955 1.000)" x="-4.05" font-size="14.72">3</text>
<text x="475.45" y="425.00" font-size="14.72">4</text>
<text transform="translate(569.50 425.00) scale(0.939 1.000)" x="-4.08" font-size="14.72">5</text>
<text transform="translate(345.00 444.00) scale(0.944 1.000)" x="-4.92" font-size="14.72">X</text>
<g transform="translate(26 251.3) rotate(-90)">
<text transform="translate(1.93 -0.41) scale(0.964 1.000)" x="-1.64" font-size="14.72">l</text><text x="4.01" y="-0.41" font-size="14.72">o</text><text transform="translate(16.50 -0.41) scale(1.025 1.000)" x="-3.93" font-size="14.72">g</text><text transform="translate(35.25 -7.56) scale(1.017 1.000)" x="-2.57" font-size="10.31" font-style="italic">p</text><text transform="translate(40.49 -7.56) scale(0.850 1.000)" x="-2.01" font-size="10.31">(</text><text transform="translate(45.57 -7.56) scale(0.981 1.000)" x="-3.50" font-size="10.31" font-style="italic">X</text><text transform="translate(50.88 -7.56) scale(0.850 1.000)" x="-1.43" font-size="10.31">)</text><text transform="translate(26.58 6.00) scale(0.950 1.000)" x="-3.01" font-size="10.31">1</text><text transform="translate(35.55 6.00) scale(1.200 1.000)" x="-3.01" font-size="10.31">−</text><text transform="translate(44.35 6.00) scale(1.017 1.000)" x="-2.57" font-size="10.31" font-style="italic">p</text><text transform="translate(49.60 6.00) scale(0.850 1.000)" x="-2.01" font-size="10.31">(</text><text transform="translate(54.67 6.00) scale(0.981 1.000)" x="-3.50" font-size="10.31" font-style="italic">X</text><text transform="translate(59.98 6.00) scale(0.850 1.000)" x="-1.43" font-size="10.31">)</text>
<rect x="23.30" y="-4" width="40.00" height="1"/>
</g>
</g>
<rect x="373.5" y="41.5" width="212.0" height="67.0" rx="2.78" ry="2.78" fill="#fff" fill-opacity="0.8" stroke="#cccccc" stroke-opacity="0.8" stroke-width="1.3889"/>
<path d="M378.5 53.5 L406.5 53.5" stroke="#0000ff" stroke-width="1.3889" stroke-linecap="square" fill="none"/>
<path d="M378.5 74.5 L406.5 74.5" stroke="#ffa500" stroke-width="1.3889" stroke-linecap="square" fill="none"/>
<path d="M378.5 95.0 L406.5 95.0" stroke="#008000" stroke-width="2.0833" stroke-linecap="square" fill="none"/>
<g font-family="Liberation Sans, sans-serif" fill="#000" stroke="#000" stroke-width="0.05">
<text transform="translate(421.31 58.00) scale(0.971 1.000)" x="-4.45" font-size="14.72">L</text><text x="424.45" y="58.00" font-size="14.72">o</text><text transform="translate(436.95 58.00) scale(1.025 1.000)" x="-3.93" font-size="14.72">g</text><text transform="translate(443.54 58.00) scale(0.964 1.000)" x="-1.63" font-size="14.72">i</text><text transform="translate(449.12 58.00) scale(0.904 1.000)" x="-3.62" font-size="14.72">s</text><text transform="translate(455.45 58.00) scale(1.200 1.000)" x="-2.10" font-size="14.72">t</text><text transform="translate(460.08 58.00) scale(0.964 1.000)" x="-1.63" font-size="14.72">i</text><text transform="translate(465.78 58.00) scale(0.947 1.000)" x="-3.80" font-size="14.72">c</text><text transform="translate(479.36 58.00) scale(0.902 1.000)" x="-5.58" font-size="14.72">R</text><text transform="translate(487.37 58.00) scale(1.019 1.000)" x="-4.08" font-size="14.72">e</text><text transform="translate(495.79 58.00) scale(1.025 1.000)" x="-3.93" font-size="14.72">g</text><text transform="translate(503.93 58.00) scale(1.200 1.000)" x="-2.82" font-size="14.72">r</text><text transform="translate(510.13 58.00) scale(1.019 1.000)" x="-4.08" font-size="14.72">e</text><text transform="translate(518.04 58.00) scale(0.904 1.000)" x="-3.62" font-size="14.72">s</text><text transform="translate(525.28 58.00) scale(0.904 1.000)" x="-3.62" font-size="14.72">s</text><text transform="translate(530.79 58.00) scale(0.964 1.000)" x="-1.63" font-size="14.72">i</text><text x="532.88" y="58.00" font-size="14.72">o</text><text transform="translate(545.66 58.00) scale(1.017 1.000)" x="-4.10" font-size="14.72">n</text>
<text transform="translate(421.64 79.00) scale(0.850 1.000)" x="-5.20" font-size="14.72">E</text><text transform="translate(430.07 79.00) scale(0.850 1.000)" x="-4.81" font-size="14.72">F</text><text transform="translate(439.40 79.00) scale(0.976 1.000)" x="-5.57" font-size="14.72">D</text><text transform="translate(448.98 79.00) scale(0.950 1.000)" x="-4.91" font-size="14.72">A</text>
<text transform="translate(421.14 100.00) scale(1.029 1.000)" x="-4.49" font-size="14.72">T</text><text transform="translate(426.82 100.00) scale(1.200 1.000)" x="-2.82" font-size="14.72">r</text><text transform="translate(433.41 100.00) scale(1.017 1.000)" x="-4.08" font-size="14.72">u</text><text transform="translate(442.14 100.00) scale(1.019 1.000)" x="-4.08" font-size="14.72">e</text><text transform="translate(455.32 100.00) scale(0.971 1.000)" x="-4.45" font-size="14.72">L</text><text x="458.46" y="100.00" font-size="14.72">o</text><text transform="translate(470.96 100.00) scale(1.025 1.000)" x="-3.93" font-size="14.72">g</text><text transform="translate(485.50 100.00) scale(0.933 1.000)" x="-5.72" font-size="14.72">O</text><text transform="translate(495.13 100.00) scale(1.025 1.000)" x="-3.93" font-size="14.72">d</text><text transform="translate(503.94 100.00) scale(1.025 1.000)" x="-3.93" font-size="14.72">d</text><text transform="translate(512.25 100.00) scale(0.904 1.000)" x="-3.62" font-size="14.72">s</text><text transform="translate(524.52 100.00) scale(0.850 1.000)" x="-4.81" font-size="14.72">F</text><text transform="translate(531.83 100.00) scale(1.017 1.000)" x="-4.08" font-size="14.72">u</text><text transform="translate(540.72 100.00) scale(1.017 1.000)" x="-4.10" font-size="14.72">n</text><text transform="translate(548.85 100.00) scale(0.947 1.000)" x="-3.80" font-size="14.72">c</text><text transform="translate(555.46 100.00) scale(1.200 1.000)" x="-2.10" font-size="14.72">t</text><text transform="translate(560.09 100.00) scale(0.964 1.000)" x="-1.63" font-size="14.72">i</text><text x="562.18" y="100.00" font-size="14.72">o</text><text transform="translate(574.96 100.00) scale(1.017 1.000)" x="-4.10" font-size="14.72">n</text>
</g>
</svg>
</body></html>
